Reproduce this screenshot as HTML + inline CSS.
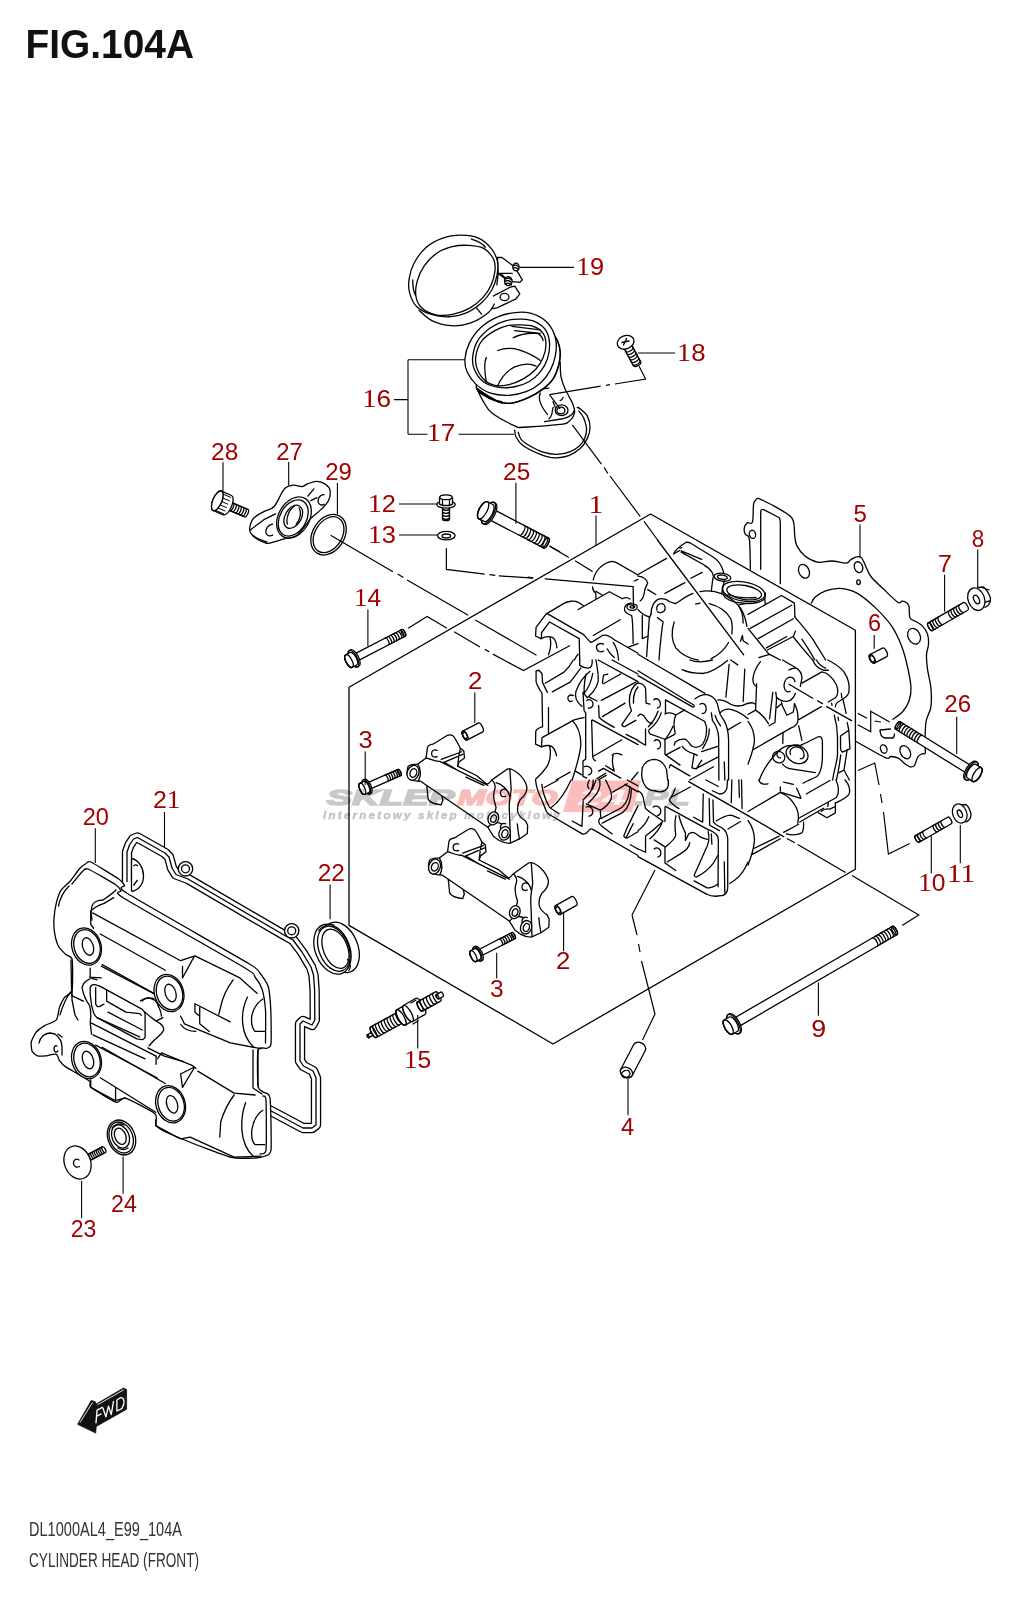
<!DOCTYPE html>
<html><head><meta charset="utf-8">
<style>
html,body{margin:0;padding:0;background:#fff;width:1020px;height:1600px;overflow:hidden}
svg{position:absolute;left:0;top:0;display:block}
.n{font-family:"Liberation Sans",sans-serif;font-size:23px;fill:#a00000}
.k{stroke:#000;stroke-width:1.3;fill:none;stroke-linecap:round;stroke-linejoin:round}
.w{stroke:#000;stroke-width:1.3;fill:#fff;stroke-linecap:round;stroke-linejoin:round}
.t{stroke:#000;stroke-width:1.1;fill:none}
.d{stroke:#000;stroke-width:1.2;fill:none;stroke-dasharray:22 5 4 5}
</style></head><body>
<svg width="1020" height="1600" viewBox="0 0 1020 1600">
<!-- title -->

<text x="25.5" y="57.5" textLength="168.5" lengthAdjust="spacingAndGlyphs" style="font-family:'Liberation Sans',sans-serif;font-weight:bold;font-size:40px;fill:#111">FIG.104A</text>

<!-- footer -->

<text x="29" y="1536.3" textLength="153" lengthAdjust="spacingAndGlyphs" style="font-family:'Liberation Sans',sans-serif;font-size:20px;fill:#333">DL1000AL4_E99_104A</text>
<text x="29" y="1567.2" textLength="170" lengthAdjust="spacingAndGlyphs" style="font-family:'Liberation Sans',sans-serif;font-size:20px;fill:#333">CYLINDER HEAD (FRONT)</text>

<!-- GASKET 5 -->
<g class="k">
<path d="M750.4 569.3C750.2 564.3 750.2 545.2 749.4 539.4C748.5 533.6 746.1 536.2 745.3 534.3C744.4 532.4 743.9 530.0 744.3 528.1C744.6 526.2 746.0 523.9 747.4 522.9C748.8 521.9 751.5 525.0 752.5 521.9C753.5 518.8 753.0 508.0 753.5 504.4C754.0 500.8 754.4 501.1 755.6 500.3C756.8 499.5 755.2 496.9 760.7 499.3C766.2 501.7 783.0 510.8 788.5 514.7C794.0 518.6 792.7 519.5 793.7 522.9C794.7 526.3 794.2 531.5 794.7 535.3C795.2 539.1 795.1 542.2 796.8 545.6C798.5 549.0 801.6 553.1 805.0 555.9C808.4 558.6 812.9 561.2 817.4 562.1C821.9 563.0 827.0 560.8 831.8 561.0C836.6 561.2 843.1 563.3 846.2 563.1C849.3 562.9 848.6 561.0 850.3 560.0C852.0 559.0 854.6 557.2 856.5 556.9C858.4 556.5 860.1 556.3 861.6 557.9C863.1 559.5 864.2 563.1 865.7 566.2C867.2 569.3 868.0 572.7 870.9 576.5C873.8 580.3 878.7 584.5 883.2 588.8C887.7 593.1 894.6 600.1 897.7 602.2C900.8 604.3 900.4 601.2 901.8 601.2C903.2 601.2 904.7 601.4 905.9 602.2C907.1 603.1 908.3 603.7 909.0 606.3C909.7 608.9 908.8 615.1 910.0 617.7C911.2 620.3 914.1 620.4 916.2 621.8C918.3 623.2 920.5 623.8 922.4 625.9C924.3 628.0 926.5 631.0 927.5 634.1C928.5 637.2 928.7 641.0 928.5 644.4C928.3 647.8 926.7 650.6 926.5 654.7C926.3 658.8 926.8 664.0 927.5 669.1C928.2 674.2 930.0 680.8 930.6 685.6C931.2 690.4 931.4 694.2 931.4 698.0C931.4 701.8 931.5 704.8 930.6 708.5C929.8 712.2 927.2 716.2 926.3 720.4C925.4 724.5 925.4 729.3 925.2 733.4C925.0 737.5 925.0 741.7 925.0 745.0C925.0 748.3 925.7 751.8 925.2 753.3C924.7 754.8 923.2 753.2 922.0 753.8C920.8 754.4 919.0 755.1 917.7 757.1C916.4 759.1 915.7 764.1 914.4 765.7C913.1 767.3 911.7 767.1 910.1 766.8C908.5 766.4 906.7 765.0 904.7 763.6C902.7 762.2 900.6 759.4 898.3 758.2C896.0 757.0 892.9 756.6 890.7 756.5C888.5 756.4 890.8 759.9 885.3 757.6C879.8 755.3 865.3 746.6 857.8 742.5C850.2 738.4 843.0 734.6 840.0 733.0"/>
<path d="M760.7 569.3L760.7 512C760.7 510 762 509 763.8 509.6L779.3 517.8C780 519 780.3 520 780.3 522.9L780.3 583.7"/>
<path d="M811.2 603.2C811.9 602.2 812.9 599.2 815.3 597.1C817.7 595.0 821.5 592.4 825.6 590.9C829.7 589.4 834.9 588.1 840.0 588.4C845.1 588.7 850.7 589.7 856.5 592.9C862.3 596.1 869.2 601.9 875.0 607.4C880.8 612.9 887.0 619.4 891.5 625.9C896.0 632.4 899.0 639.3 901.8 646.5C904.5 653.7 906.5 662.1 908.0 669.0C909.5 675.9 910.8 682.7 911.0 688.0C911.2 693.3 910.4 697.0 909.0 701.0C907.6 705.0 905.3 708.8 902.6 711.8C899.9 714.8 894.5 718.0 892.9 719.3"/>
<ellipse cx="752.5" cy="534.3" rx="3.1" ry="4.1" transform="rotate(-15 752.5 534.3)"/>
<ellipse cx="804" cy="571.3" rx="5.1" ry="7.2" transform="rotate(-25 804 571.3)"/>
<ellipse cx="858.5" cy="567.2" rx="4.1" ry="5.6" transform="rotate(-20 858.5 567.2)"/>
<ellipse cx="858.5" cy="582.2" rx="1.8" ry="2.3"/>
<ellipse cx="914.1" cy="636.2" rx="6" ry="8.2" transform="rotate(-25 914.1 636.2)"/>
<ellipse cx="883.7" cy="749" rx="3.2" ry="4.3" transform="rotate(-20 883.7 749)"/>
<ellipse cx="905.3" cy="752.2" rx="4.8" ry="7" transform="rotate(-30 905.3 752.2)"/>
<path d="M880 730L890.5 729M881 735C880 732 880 731 880 730M881 735C882 737 884 738 886 738L893 738C894 737 894.5 736 894.4 734"/>
</g>

<!-- BOX -->

<g class="k">
<path d="M349 687.2L650.6 514L855.4 630.3V869.3L553 1044L349 925.4Z" style="fill:#fff"/>
</g>

<!-- HEAD A1 -->
<g transform="translate(528 540) scale(0.10784)" class="k">
<path vector-effect="non-scaling-stroke" d="M205 60L375 160M440 195L595 290"/>
<path vector-effect="non-scaling-stroke" d="M0 345L45 352M160 360L975 432L978 630"/>
<path vector-effect="non-scaling-stroke" d="M605 370C620 290 690 210 780 198C800 200 810 205 820 210L1020 325M985 380L1020 365"/>
<path vector-effect="non-scaling-stroke" d="M598 435C600 460 610 480 628 492L630 545M630 475L690 512"/>
<path vector-effect="non-scaling-stroke" d="M170 685L330 590C370 565 430 560 470 580L515 610M465 645L755 480L875 545C900 530 925 530 945 548"/>
<path vector-effect="non-scaling-stroke" d="M895 650C890 610 920 585 960 585M895 650C900 670 920 685 960 700C970 720 972 760 975 960"/>
<path vector-effect="non-scaling-stroke" d="M175 680L505 870C530 890 550 920 578 945C588 952 597 948 605 940L690 885C720 875 760 890 800 925L1020 1050"/>
<path vector-effect="non-scaling-stroke" d="M125 915L125 860L200 760L475 915L480 1113M70 890L75 810L165 690M70 890L120 915"/>
<path vector-effect="non-scaling-stroke" d="M120 915C160 895 200 890 230 905C255 925 265 960 268 1000M205 905C215 950 210 1010 190 1065"/>
<path vector-effect="non-scaling-stroke" d="M605 885L855 740M925 995L1020 960"/>
<path vector-effect="non-scaling-stroke" d="M700 965C665 950 630 970 635 1000C640 1035 670 1045 700 1030"/>
<path vector-effect="non-scaling-stroke" d="M735 1010C750 1040 770 1065 800 1090M790 950C820 990 835 1040 840 1113"/>
<path vector-effect="non-scaling-stroke" d="M430 1113C440 1090 455 1070 465 1060"/>
<ellipse vector-effect="non-scaling-stroke" cx="965" cy="622" rx="48" ry="30"/><ellipse vector-effect="non-scaling-stroke" cx="968" cy="620" rx="22" ry="12"/>
</g>
<!-- HEAD A2 -->
<g transform="translate(638 540) scale(0.10784)" class="k">
<path vector-effect="non-scaling-stroke" d="M180 0L980 1065"/>
<path vector-effect="non-scaling-stroke" d="M330 130C345 90 390 55 440 25C455 18 470 20 485 28L700 160C745 190 780 240 795 305"/>
<path vector-effect="non-scaling-stroke" d="M335 125L385 98M390 78L405 70M400 100L590 180M400 112L610 230C640 245 670 275 690 305L700 340"/>
<path vector-effect="non-scaling-stroke" d="M695 350L680 470M800 380L775 500"/>
<path vector-effect="non-scaling-stroke" d="M0 320L265 170M0 335C40 340 80 360 90 400C80 420 65 440 60 480C55 520 40 550 20 565"/>
<path vector-effect="non-scaling-stroke" d="M90 460L165 505M250 495L435 395M490 355L595 300"/>
<path vector-effect="non-scaling-stroke" d="M175 650C165 610 195 585 225 590C255 600 260 640 240 660C220 675 195 675 180 665"/>
<path vector-effect="non-scaling-stroke" d="M120 690C120 620 150 560 200 545C240 540 280 560 300 575L345 590L380 570C420 540 470 510 510 495"/>
<path vector-effect="non-scaling-stroke" d="M575 478C650 465 720 475 780 500C850 530 910 580 950 630C980 680 1000 740 1010 800"/>
<path vector-effect="non-scaling-stroke" d="M660 590C740 610 820 660 860 730C880 780 875 830 870 870M535 595L575 585"/>
<path vector-effect="non-scaling-stroke" d="M335 760C310 840 310 930 350 1000C400 1060 480 1100 560 1113M840 950C800 1020 740 1070 680 1100"/>
<path vector-effect="non-scaling-stroke" d="M230 770C220 850 205 950 195 1113M180 720L235 760M120 690L105 720L80 1080"/>
<path vector-effect="non-scaling-stroke" d="M0 645C30 680 60 700 110 715M40 700L40 915L95 890M0 1060L90 1113"/>
<path vector-effect="non-scaling-stroke" d="M950 940L968 885L975 935L1020 965M940 600L1000 590M935 615C960 650 975 700 975 770"/>
<ellipse vector-effect="non-scaling-stroke" cx="783" cy="345" rx="78" ry="36" transform="rotate(8 783 345)"/><ellipse vector-effect="non-scaling-stroke" cx="783" cy="345" rx="46" ry="19" transform="rotate(8 783 345)"/>
</g>
<!-- HEAD A3 -->
<g transform="translate(748 540) scale(0.10784)" class="k">
<path vector-effect="non-scaling-stroke" d="M155 545L160 595"/>
<path vector-effect="non-scaling-stroke" d="M0 690L310 515L430 585L435 712M20 820L405 605M95 915L420 730M170 1000L360 895M180 1020L420 895L440 845"/>
<path vector-effect="non-scaling-stroke" d="M0 820L195 1060M100 1090L200 1060L300 1113M435 712C470 760 540 830 600 920L720 1113M420 895C450 940 520 1020 600 1113M500 920C540 980 580 1040 620 1113"/>
</g>
<!-- HEAD B1 -->
<g transform="translate(528 660) scale(0.10784)" class="k">
<path vector-effect="non-scaling-stroke" d="M75 100L75 200C80 230 100 260 130 310L135 620C110 625 85 635 72 660L70 780L125 805M75 100L100 95L130 125L135 210C150 240 165 270 180 300"/>
<path vector-effect="non-scaling-stroke" d="M190 440L190 680M130 720L420 560C450 545 490 540 520 535M125 805L130 720"/>
<path vector-effect="non-scaling-stroke" d="M160 215L330 115C370 80 400 40 420 0M225 295L390 205C430 160 460 110 490 75"/>
<path vector-effect="non-scaling-stroke" d="M410 560C460 610 490 690 490 780C485 880 450 980 410 1113"/>
<path vector-effect="non-scaling-stroke" d="M125 805C150 795 180 790 205 795C235 805 255 840 265 890M200 800C215 860 205 930 180 980C150 1030 110 1070 70 1105"/>
<path vector-effect="non-scaling-stroke" d="M480 0L480 50C500 65 530 75 560 75C585 70 600 50 595 0M630 0L640 60L650 130"/>
<path vector-effect="non-scaling-stroke" d="M575 105C520 150 470 220 445 290C430 340 450 390 500 430M540 130C525 180 520 240 520 300M600 125C590 190 560 260 520 310M650 140C660 200 640 270 560 340M690 215L700 140L740 130"/>
<path vector-effect="non-scaling-stroke" d="M420 330C390 315 365 335 370 360C375 385 395 390 410 380M545 375C570 355 600 375 603 405C605 430 585 450 560 445"/>
<path vector-effect="non-scaling-stroke" d="M510 300L520 470L535 490L535 920L510 935L510 1080L545 1095M510 300L550 350M560 340L640 380"/>
<path vector-effect="non-scaling-stroke" d="M655 420L660 530C670 550 690 565 800 625M590 560L600 900C605 920 615 930 625 935M595 555L1020 785M610 890L870 740M910 690L1020 745"/>
<path vector-effect="non-scaling-stroke" d="M680 375L1000 205M690 525L900 400M700 220L860 130M650 0L1020 200M780 0L1020 130"/>
<path vector-effect="non-scaling-stroke" d="M1020 210C970 240 940 300 940 380C940 420 950 450 960 470L870 600C875 615 890 620 900 615L1000 560M1020 250C985 290 975 340 978 400"/>
<path vector-effect="non-scaling-stroke" d="M780 880C800 860 840 860 870 880M790 880C780 920 780 970 800 1030M720 980L800 1030M655 1030L700 1005L860 1095M640 1100L720 1050M650 1113L725 1070M960 1113L1020 1040"/>
<path vector-effect="non-scaling-stroke" d="M260 1113L390 1040M440 1030L500 1065"/>
<path vector-effect="non-scaling-stroke" d="M520 990C550 975 580 990 590 1020C595 1045 580 1065 560 1065"/>
</g>
<!-- HEAD B2 -->
<g transform="translate(638 660) scale(0.10784)" class="k">
<path vector-effect="non-scaling-stroke" d="M90 0L620 310M0 100L520 420M0 145L505 435C515 440 525 430 520 420"/>
<path vector-effect="non-scaling-stroke" d="M410 90C450 110 520 125 600 125C660 120 740 80 830 5M480 0C520 15 600 25 690 0M845 40L815 345M990 85L975 385M860 0L925 45"/>
<path vector-effect="non-scaling-stroke" d="M530 360C560 335 600 320 640 322C680 330 710 355 730 390C745 430 750 480 765 510L800 565C825 610 838 660 840 740L840 1113"/>
<path vector-effect="non-scaling-stroke" d="M680 490L690 560C720 600 745 650 748 720L750 1113M715 515C725 550 740 580 765 610"/>
<path vector-effect="non-scaling-stroke" d="M575 410C600 390 630 410 632 445C635 480 615 500 595 495M145 370C165 350 195 360 205 390C215 420 200 445 180 445M150 750C170 730 200 740 208 770C215 800 200 825 180 825"/>
<path vector-effect="non-scaling-stroke" d="M0 215C30 215 55 230 70 260L75 400L110 410M70 640L70 790L0 750"/>
<path vector-effect="non-scaling-stroke" d="M255 370L620 570M255 370L255 500M250 500C280 485 320 490 350 510L435 462"/>
<path vector-effect="non-scaling-stroke" d="M350 510C330 560 330 620 345 680M325 615C310 650 290 690 255 735L340 690"/>
<path vector-effect="non-scaling-stroke" d="M215 490C200 540 170 590 110 640C95 650 95 670 115 690M185 475C170 520 145 570 95 620M110 685L250 735M0 520C20 490 50 500 70 540C85 570 110 585 130 590"/>
<path vector-effect="non-scaling-stroke" d="M250 735L250 875L390 975M260 880L390 810"/>
<path vector-effect="non-scaling-stroke" d="M335 790L345 760C370 740 410 730 440 735C465 750 480 780 500 800C530 815 570 810 600 780C625 740 640 680 635 620L620 575"/>
<path vector-effect="non-scaling-stroke" d="M410 800C430 830 470 855 520 870L550 885M520 870L500 1000L540 1010L590 930M590 850L740 800M550 1000L740 900M480 1113L700 990M660 640C665 690 650 740 600 820"/>
<path vector-effect="non-scaling-stroke" d="M40 1000C60 950 100 925 150 922C200 925 245 960 265 1020L275 1113M290 1000L300 970L480 1075"/>
<path vector-effect="non-scaling-stroke" d="M740 370C790 365 830 390 860 410C900 430 950 440 1020 400M760 490C790 460 830 450 870 460C920 475 980 510 1020 545M830 650L950 580M800 945L805 1113"/>
</g>
<!-- HEAD B3 -->
<g transform="translate(748 660) scale(0.10784)" class="k">
<path vector-effect="non-scaling-stroke" d="M115 15C80 60 50 120 45 180C45 210 60 235 80 245M80 220L70 465M0 405C20 395 50 395 70 410M0 505L70 465C110 490 160 540 190 590M0 570C40 620 60 680 60 750C55 810 40 860 0 965"/>
<path vector-effect="non-scaling-stroke" d="M320 0L440 70C480 90 500 130 500 170L485 245M380 92C400 80 420 75 440 75"/>
<path vector-effect="non-scaling-stroke" d="M435 200C430 165 400 150 370 165C340 180 325 230 340 270C350 295 375 300 390 290"/>
<path vector-effect="non-scaling-stroke" d="M380 225L600 355M645 378L690 405M730 432L960 562"/>
<path vector-effect="non-scaling-stroke" d="M500 215L685 110C740 120 790 170 820 230C840 280 835 330 810 350L745 390"/>
<path vector-effect="non-scaling-stroke" d="M600 0C615 40 650 80 700 95L745 95M635 0C650 30 680 60 720 75M740 0C790 25 850 60 890 110C930 170 945 240 935 300C925 340 890 360 850 380C820 395 810 410 810 435M775 400L780 420M865 310L870 350M880 360L910 495"/>
<path vector-effect="non-scaling-stroke" d="M230 300L200 545M258 298L265 360L250 580L195 610M265 345C290 370 320 385 360 383C400 378 425 350 440 310M270 440L310 405L360 512L420 482L432 405M310 390L320 430"/>
<path vector-effect="non-scaling-stroke" d="M430 405C455 450 468 510 462 570C455 600 440 615 400 630L50 830M475 550L680 432M325 680L322 775M470 610L500 745"/>
<path vector-effect="non-scaling-stroke" d="M105 1113C130 1040 180 960 240 890C280 840 320 805 370 795L490 790C540 770 600 735 650 712C675 705 690 720 690 760L690 900C688 980 670 1050 640 1080L570 1113"/>
<path vector-effect="non-scaling-stroke" d="M320 965C340 990 370 1005 400 1010L625 1045M395 875C380 840 400 810 440 805C490 800 520 840 520 880C520 905 505 915 485 915M300 845C280 840 265 860 270 885C275 905 290 910 300 905"/>
<path vector-effect="non-scaling-stroke" d="M800 512C820 580 830 650 830 720L830 880C825 950 800 1010 785 1113M835 530L840 560M820 1113C835 1050 850 960 860 880"/>
<path vector-effect="non-scaling-stroke" d="M858 705L935 652L945 825L875 855C865 850 860 835 858 820ZM920 580L935 650M920 830L890 1020L845 1045M890 1020L940 1113"/>
<ellipse vector-effect="non-scaling-stroke" cx="455" cy="875" rx="105" ry="82" transform="rotate(25 455 875)"/><ellipse vector-effect="non-scaling-stroke" cx="285" cy="900" rx="58" ry="52" transform="rotate(25 285 900)"/>
</g>
<!-- HEAD C1 -->
<g transform="translate(528 780) scale(0.10784)" class="k">
<path vector-effect="non-scaling-stroke" d="M70 0C75 60 100 130 130 190L170 290C180 310 190 318 205 325L495 495C510 505 530 503 545 490L570 460C580 450 590 450 605 460L1020 700"/>
<path vector-effect="non-scaling-stroke" d="M128 40C135 110 165 190 200 255L285 310M150 70L280 0M215 255C280 210 340 130 400 0"/>
<path vector-effect="non-scaling-stroke" d="M410 380L500 430L512 195M510 185C540 160 570 120 600 80L630 0M570 0C550 30 550 60 565 80M665 0C675 60 650 120 610 160L560 215M605 0C605 50 590 100 560 140"/>
<path vector-effect="non-scaling-stroke" d="M540 250C560 240 590 250 600 280C605 310 590 335 565 335M540 222L670 280L675 350M670 280C710 260 745 230 770 180C785 140 770 100 720 0M785 112L920 35"/>
<path vector-effect="non-scaling-stroke" d="M665 355C650 380 655 405 680 425L780 500M675 358L870 255C910 220 940 160 945 60M688 400L880 300C920 270 955 200 960 80"/>
<path vector-effect="non-scaling-stroke" d="M900 40L1020 110M920 0L1020 55M1020 240C990 300 950 380 920 440L888 520C895 535 905 540 920 538L1020 480M975 405L912 530M950 600L1020 640"/>
</g>
<!-- HEAD C2 -->
<g transform="translate(638 780) scale(0.10784)" class="k">
<path vector-effect="non-scaling-stroke" d="M160 100C200 115 245 110 270 80C282 60 284 30 280 0M0 100C30 110 50 140 55 200L70 265L100 290M0 470C40 440 75 400 100 340"/>
<path vector-effect="non-scaling-stroke" d="M140 250C160 235 195 240 208 270C218 300 205 325 180 330M100 290L230 380"/>
<path vector-effect="non-scaling-stroke" d="M250 250L250 385M255 245L650 460M290 185C300 210 330 235 380 265M345 75C335 110 315 150 292 185M300 165L485 65"/>
<path vector-effect="non-scaling-stroke" d="M470 15L1020 330M630 0L745 60M690 100L755 130C790 130 815 110 825 75L830 0M870 0L865 210M935 0L940 160M960 0L965 265"/>
<path vector-effect="non-scaling-stroke" d="M605 130L600 390L515 345M660 170L665 420L755 470M695 185L700 390C710 410 730 420 780 445C810 465 830 500 832 550L832 1000C830 1040 815 1060 790 1070"/>
<path vector-effect="non-scaling-stroke" d="M725 380C770 350 820 325 865 325L940 355M835 455L950 385M645 460C690 470 720 490 740 525L745 560L742 990M800 760L805 1050"/>
<path vector-effect="non-scaling-stroke" d="M380 330C390 380 410 430 440 490M440 495L440 560L470 500C490 485 515 480 540 500C570 525 610 545 645 550M352 330C340 380 340 440 350 510C345 540 320 570 255 620M480 580C475 620 450 650 400 680L270 760"/>
<path vector-effect="non-scaling-stroke" d="M150 555L250 620L250 770L350 840M70 520L70 670L0 640M70 520C110 490 160 450 230 385M110 545C150 510 190 470 220 405"/>
<path vector-effect="non-scaling-stroke" d="M150 640C170 620 200 630 210 660C215 690 205 710 185 715"/>
<path vector-effect="non-scaling-stroke" d="M650 480C665 530 655 600 620 660L520 885C525 895 535 900 545 898M680 500L685 595M545 898C600 870 660 820 700 770L740 700"/>
<path vector-effect="non-scaling-stroke" d="M0 710L640 1060C660 1072 680 1078 720 1078L790 1070M520 935L640 1000C670 1005 700 995 740 965"/>
<path vector-effect="non-scaling-stroke" d="M850 960C900 930 960 880 990 820L1020 760"/>
</g>
<!-- HEAD C3 -->
<g transform="translate(748 780) scale(0.10784)" class="k">
<path vector-effect="non-scaling-stroke" d="M0 330L330 525M365 545L430 580M465 600L900 855"/>
<path vector-effect="non-scaling-stroke" d="M100 0C110 30 140 45 185 35M330 20L420 40M510 30L570 0M300 65L300 100M450 75L490 165M300 112L490 170"/>
<path vector-effect="non-scaling-stroke" d="M0 292L300 115C360 140 420 200 450 260C470 310 472 360 460 400M540 130L760 5"/>
<path vector-effect="non-scaling-stroke" d="M470 355L820 162M480 390L700 262M815 0C835 40 842 90 835 130L820 162M900 0C935 40 948 90 940 125C925 160 880 180 820 210"/>
<path vector-effect="non-scaling-stroke" d="M330 485L470 410M355 500C400 512 460 510 500 490C515 470 518 440 515 390"/>
<path vector-effect="non-scaling-stroke" d="M45 640L290 520M40 690L300 545M0 375C40 430 60 500 60 560C55 630 35 700 0 790"/>
<path vector-effect="non-scaling-stroke" d="M650 302L732 350L810 305L810 210M680 290C700 270 730 265 760 270L800 250M740 245L745 210"/>
</g>

<!-- OUTLET RING -->
<g>
<path class="k" d="M722.8 590L723.5 595C726 600 735 603 748 603.5C756 603.5 762 601.5 765 598.5L765.5 593"/><ellipse class="k" cx="743.60" cy="591.50" rx="21.60" ry="9.60" transform="rotate(10.0 743.60 591.50)"/><ellipse class="k" cx="744.20" cy="592.40" rx="17.60" ry="7.00" transform="rotate(10.0 744.20 592.40)"/><path class="k" d="M728 594.5C735 597 745 598.5 756 597.5"/></g>

<!-- HEAD small fixes -->
<g class="k">
<path d="M642.3 767.8C641 775 642 782 646 787C649 790 653 791 656 790.8"/>
</g>

<!-- ASSEMBLY LINES -->
<g class="t" style="stroke-width:1.2">
<path d="M330.6 535.3L392.9 571.8M397.6 574.1L403.5 577.6M407.1 580L468.2 615.3M475.3 620L536.5 655.3"/>
<path d="M446.4 548.2L446.4 569.4L484.7 574.1M489.4 574.6L495.3 575.3M498.8 575.8L532.9 578.2"/>
<path d="M408.2 628.2L427.1 616.5L447 628.2M454.1 631.8L480 647M484.7 649.4L489.4 651.8M492.9 654.1L523.5 670.6L570.1 645.5"/>
<path d="M549.4 545.9L560 551.8"/>
<path d="M852 875.4L918.8 914.9L902.1 925.6"/>
<path d="M858 770.5L874.8 763L879 785M880.5 794L882 803M883.5 812L888.4 854.1L909.7 843.5"/>
<path d="M857.8 713.4L867 718.3M874.5 721L881 722M857.8 724.7L870.7 731.7L870.7 711.2L889.6 722"/>
<path d="M655 870L632 915M632 915L637 935M638.5 944L640 952M641.5 961L655 1014L642.5 1040"/>
<path d="M572.3 424.8L601.4 464.2M604.1 467.4L607.8 473.4M610 476L640.2 516.5M644 521.4L658 540.5"/>
</g>

<!-- SMALL PARTS A -->
<g>
<path class="k" d="M932.60 630.51 L967.70 610.21 A1.98 4.40 -30.0 0 0 963.30 602.59 L928.20 622.89 A1.98 4.40 -30.0 0 0 932.60 630.51 Z" style="fill:#fff"/><ellipse class="k" cx="930.40" cy="626.70" rx="1.98" ry="4.40" transform="rotate(-30.0 930.40 626.70)"/><path class="k" d="M935.20 629.01 A1.98 4.40 -30.0 0 1 930.79 621.39"/><path class="k" d="M937.80 627.50 A1.98 4.40 -30.0 0 1 933.39 619.89"/><path class="k" d="M940.39 626.00 A1.98 4.40 -30.0 0 1 935.99 618.39"/><path class="k" d="M942.99 624.50 A1.98 4.40 -30.0 0 1 938.58 616.88"/><path class="k" d="M953.38 618.49 A1.98 4.40 -30.0 0 1 948.97 610.88"/><path class="k" d="M955.98 616.99 A1.98 4.40 -30.0 0 1 951.57 609.37"/><path class="k" d="M958.57 615.49 A1.98 4.40 -30.0 0 1 954.17 607.87"/><path class="k" d="M961.17 613.99 A1.98 4.40 -30.0 0 1 956.76 606.37"/><path class="k" d="M963.77 612.49 A1.98 4.40 -30.0 0 1 959.36 604.87"/><path class="k" d="M978 587.5L983.5 587C986 589 989 594 990.5 598L990 602.5C989 605 987.5 606.5 985 607.5" style="fill:#fff"/><ellipse class="k" cx="976.30" cy="599.20" rx="8.20" ry="11.60" transform="rotate(-20.0 976.30 599.20)" style="fill:#fff"/><ellipse class="k" cx="976.50" cy="599.50" rx="2.60" ry="4.60" transform="rotate(-25.0 976.50 599.50)"/><path class="k" d="M983 588L989 590M990 601L985.5 602"/><path class="k" d="M874.40 663.07 L886.80 656.67 A2.16 4.80 -27.3 0 0 882.40 648.13 L870.00 654.53 A2.16 4.80 -27.3 0 0 874.40 663.07 Z" style="fill:#fff"/><ellipse class="k" cx="872.20" cy="658.80" rx="2.16" ry="4.80" transform="rotate(-27.3 872.20 658.80)"/><ellipse class="k" cx="872.20" cy="658.80" rx="2.20" ry="3.30" transform="rotate(-28.0 872.20 658.80)"/><path class="k" d="M892.09 926.45 L732.09 1019.35 A2.02 4.80 149.9 0 0 736.91 1027.65 L896.91 934.75 A2.02 4.80 149.9 0 0 892.09 926.45 Z" style="fill:#fff"/><ellipse class="k" cx="894.50" cy="930.60" rx="2.02" ry="4.80" transform="rotate(149.9 894.50 930.60)"/><path class="k" d="M895.35 935.65 A2.02 4.80 -30.1 0 0 890.53 927.35"/><path class="k" d="M892.76 937.16 A2.02 4.80 -30.1 0 0 887.94 928.86"/><path class="k" d="M890.16 938.67 A2.02 4.80 -30.1 0 0 885.34 930.37"/><path class="k" d="M887.57 940.17 A2.02 4.80 -30.1 0 0 882.75 931.87"/><path class="k" d="M884.98 941.68 A2.02 4.80 -30.1 0 0 880.16 933.38"/><path class="k" d="M882.38 943.19 A2.02 4.80 -30.1 0 0 877.56 934.88"/><path class="k" d="M879.79 944.69 A2.02 4.80 -30.1 0 0 874.97 936.39"/><path class="k" d="M877.19 946.20 A2.02 4.80 -30.1 0 0 872.37 937.90"/><path class="k" d="M732.39 1034.21 L737.58 1031.19 A3.44 8.20 -30.1 0 0 729.34 1017.01 L724.16 1020.02 A3.44 8.20 -30.1 0 0 732.39 1034.21 Z" style="fill:#fff"/><ellipse class="k" cx="728.27" cy="1027.12" rx="3.44" ry="8.20" transform="rotate(-30.1 728.27 1027.12)"/><path class="k" d="M738.99 1033.62 L740.28 1032.86 A4.62 11.00 -30.1 0 0 729.24 1013.84 L727.94 1014.59 A4.62 11.00 -30.1 0 0 738.99 1033.62 Z" style="fill:#fff"/><ellipse class="k" cx="733.46" cy="1024.10" rx="4.62" ry="11.00" transform="rotate(-30.1 733.46 1024.10)"/><path class="k" d="M732.39 1034.21 L737.58 1031.19 A3.44 8.20 -30.1 0 0 729.34 1017.01 L724.16 1020.02 A3.44 8.20 -30.1 0 0 732.39 1034.21 Z" style="fill:#fff"/><ellipse class="k" cx="728.27" cy="1027.12" rx="3.44" ry="8.20" transform="rotate(-30.1 728.27 1027.12)"/><path class="k" d="M895.68 729.24 L968.18 774.24 A1.85 4.40 31.8 0 0 972.82 766.76 L900.32 721.76 A1.85 4.40 31.8 0 0 895.68 729.24 Z" style="fill:#fff"/><ellipse class="k" cx="898.00" cy="725.50" rx="1.85" ry="4.40" transform="rotate(31.8 898.00 725.50)"/><path class="k" d="M901.85 722.71 A1.85 4.40 -148.2 0 0 897.21 730.19"/><path class="k" d="M904.40 724.29 A1.85 4.40 -148.2 0 0 899.76 731.77"/><path class="k" d="M906.95 725.88 A1.85 4.40 -148.2 0 0 902.31 733.35"/><path class="k" d="M909.50 727.46 A1.85 4.40 -148.2 0 0 904.86 734.93"/><path class="k" d="M912.05 729.04 A1.85 4.40 -148.2 0 0 907.40 736.52"/><path class="k" d="M914.59 730.62 A1.85 4.40 -148.2 0 0 909.95 738.10"/><path class="k" d="M917.14 732.20 A1.85 4.40 -148.2 0 0 912.50 739.68"/><path class="k" d="M919.69 733.79 A1.85 4.40 -148.2 0 0 915.05 741.26"/><path class="k" d="M922.24 735.37 A1.85 4.40 -148.2 0 0 917.60 742.84"/><path class="k" d="M981.26 767.76 L975.74 764.34 A3.36 8.00 -148.2 0 0 967.30 777.93 L972.82 781.36 A3.36 8.00 -148.2 0 0 981.26 767.76 Z" style="fill:#fff"/><ellipse class="k" cx="977.04" cy="774.56" rx="3.36" ry="8.00" transform="rotate(-148.2 977.04 774.56)"/><path class="k" d="M977.06 762.21 L975.78 761.42 A4.41 10.50 -148.2 0 0 964.71 779.26 L965.98 780.05 A4.41 10.50 -148.2 0 0 977.06 762.21 Z" style="fill:#fff"/><ellipse class="k" cx="971.52" cy="771.13" rx="4.41" ry="10.50" transform="rotate(-148.2 971.52 771.13)"/><path class="k" d="M981.26 767.76 L975.74 764.34 A3.36 8.00 -148.2 0 0 967.30 777.93 L972.82 781.36 A3.36 8.00 -148.2 0 0 981.26 767.76 Z" style="fill:#fff"/><ellipse class="k" cx="977.04" cy="774.56" rx="3.36" ry="8.00" transform="rotate(-148.2 977.04 774.56)"/><path class="k" d="M919.19 842.20 L951.39 823.80 A1.71 3.80 -29.7 0 0 947.61 817.20 L915.41 835.60 A1.71 3.80 -29.7 0 0 919.19 842.20 Z" style="fill:#fff"/><ellipse class="k" cx="917.30" cy="838.90" rx="1.71" ry="3.80" transform="rotate(-29.7 917.30 838.90)"/><path class="k" d="M921.79 840.71 A1.71 3.80 -29.7 0 1 918.02 834.11"/><path class="k" d="M924.39 839.22 A1.71 3.80 -29.7 0 1 920.62 832.62"/><path class="k" d="M927.00 837.73 A1.71 3.80 -29.7 0 1 923.23 831.14"/><path class="k" d="M937.42 831.78 A1.71 3.80 -29.7 0 1 933.65 825.18"/><path class="k" d="M940.02 830.29 A1.71 3.80 -29.7 0 1 936.25 823.69"/><path class="k" d="M942.63 828.80 A1.71 3.80 -29.7 0 1 938.86 822.20"/><path class="k" d="M945.23 827.32 A1.71 3.80 -29.7 0 1 941.46 820.72"/><path class="k" d="M961 805L966 804.5C968 806 970 810 971 814L970.5 818C969.5 820 968 821 966 822" style="fill:#fff"/><ellipse class="k" cx="959.70" cy="813.50" rx="7.00" ry="9.80" transform="rotate(-20.0 959.70 813.50)" style="fill:#fff"/><ellipse class="k" cx="959.90" cy="813.80" rx="2.20" ry="4.00" transform="rotate(-25.0 959.90 813.80)"/><path class="k" d="M548.55 538.12 L492.05 508.62 A2.31 5.50 -152.4 0 0 486.95 518.38 L543.45 547.88 A2.31 5.50 -152.4 0 0 548.55 538.12 Z" style="fill:#fff"/><ellipse class="k" cx="546.00" cy="543.00" rx="2.31" ry="5.50" transform="rotate(-152.4 546.00 543.00)"/><path class="k" d="M541.86 547.04 A2.31 5.50 27.6 0 0 546.95 537.29"/><path class="k" d="M539.02 545.56 A2.31 5.50 27.6 0 0 544.11 535.81"/><path class="k" d="M536.19 544.08 A2.31 5.50 27.6 0 0 541.28 534.33"/><path class="k" d="M533.35 542.60 A2.31 5.50 27.6 0 0 538.44 532.85"/><path class="k" d="M530.51 541.12 A2.31 5.50 27.6 0 0 535.60 531.37"/><path class="k" d="M527.68 539.64 A2.31 5.50 27.6 0 0 532.77 529.89"/><path class="k" d="M524.84 538.16 A2.31 5.50 27.6 0 0 529.93 528.41"/><path class="k" d="M522.00 536.67 A2.31 5.50 27.6 0 0 527.09 526.92"/><path class="k" d="M519.17 535.19 A2.31 5.50 27.6 0 0 524.26 525.44"/><path class="k" d="M478.72 518.59 L484.04 521.37 A3.99 9.50 27.6 0 0 492.83 504.52 L487.51 501.75 A3.99 9.50 27.6 0 0 478.72 518.59 Z" style="fill:#fff"/><ellipse class="k" cx="483.12" cy="510.17" rx="3.99" ry="9.50" transform="rotate(27.6 483.12 510.17)"/><path class="k" d="M482.88 523.58 L484.21 524.28 A5.04 12.00 27.6 0 0 495.32 503.00 L493.99 502.31 A5.04 12.00 27.6 0 0 482.88 523.58 Z" style="fill:#fff"/><ellipse class="k" cx="488.44" cy="512.94" rx="5.04" ry="12.00" transform="rotate(27.6 488.44 512.94)"/><path class="k" d="M478.72 518.59 L484.04 521.37 A3.99 9.50 27.6 0 0 492.83 504.52 L487.51 501.75 A3.99 9.50 27.6 0 0 478.72 518.59 Z" style="fill:#fff"/><ellipse class="k" cx="483.12" cy="510.17" rx="3.99" ry="9.50" transform="rotate(27.6 483.12 510.17)"/><path class="k" d="M401.76 629.52 L352.76 654.82 A1.60 3.80 152.7 0 0 356.24 661.58 L405.24 636.28 A1.60 3.80 152.7 0 0 401.76 629.52 Z" style="fill:#fff"/><ellipse class="k" cx="403.50" cy="632.90" rx="1.60" ry="3.80" transform="rotate(152.7 403.50 632.90)"/><path class="k" d="M403.64 637.10 A1.60 3.80 -27.3 0 0 400.16 630.35"/><path class="k" d="M401.16 638.39 A1.60 3.80 -27.3 0 0 397.67 631.63"/><path class="k" d="M398.67 639.67 A1.60 3.80 -27.3 0 0 395.18 632.92"/><path class="k" d="M396.18 640.96 A1.60 3.80 -27.3 0 0 392.69 634.20"/><path class="k" d="M393.69 642.24 A1.60 3.80 -27.3 0 0 390.21 635.49"/><path class="k" d="M391.20 643.53 A1.60 3.80 -27.3 0 0 387.72 636.77"/><path class="k" d="M388.72 644.81 A1.60 3.80 -27.3 0 0 385.23 638.06"/><path class="k" d="M352.20 667.26 L356.65 664.97 A2.94 7.00 -27.3 0 0 350.22 652.53 L345.78 654.82 A2.94 7.00 -27.3 0 0 352.20 667.26 Z" style="fill:#fff"/><ellipse class="k" cx="348.99" cy="661.04" rx="2.94" ry="7.00" transform="rotate(-27.3 348.99 661.04)"/><path class="k" d="M357.65 666.93 L358.99 666.24 A3.86 9.20 -27.3 0 0 350.55 649.89 L349.21 650.58 A3.86 9.20 -27.3 0 0 357.65 666.93 Z" style="fill:#fff"/><ellipse class="k" cx="353.43" cy="658.75" rx="3.86" ry="9.20" transform="rotate(-27.3 353.43 658.75)"/><path class="k" d="M352.20 667.26 L356.65 664.97 A2.94 7.00 -27.3 0 0 350.22 652.53 L345.78 654.82 A2.94 7.00 -27.3 0 0 352.20 667.26 Z" style="fill:#fff"/><ellipse class="k" cx="348.99" cy="661.04" rx="2.94" ry="7.00" transform="rotate(-27.3 348.99 661.04)"/><path class="k" d="M442.5 506L442.5 519.5C442.5 521 449.5 521 449.5 519.5L449.5 506" style="fill:#fff"/><path class="k" d="M442.5 509.0C444 510.8 448 510.8 449.5 509.0"/><path class="k" d="M442.5 512.0C444 513.8 448 513.8 449.5 512.0"/><path class="k" d="M442.5 515.0C444 516.8 448 516.8 449.5 515.0"/><path class="k" d="M442.5 518.0C444 519.8 448 519.8 449.5 518.0"/><ellipse class="k" cx="446.00" cy="504.50" rx="9.30" ry="3.60" transform="rotate(0.0 446.00 504.50)" style="fill:#fff"/><path class="k" d="M439.5 504L439.5 497.5C441 495 451 495 452.5 497.5L452.5 504C451 506 441 506 439.5 504Z" style="fill:#fff"/><path class="k" d="M442.5 505.5L442.5 499M449.5 505.5L449.5 499"/><ellipse class="k" cx="446.00" cy="497.20" rx="6.20" ry="2.40" transform="rotate(0.0 446.00 497.20)" style="fill:#fff"/><ellipse class="k" cx="446.30" cy="535.60" rx="8.80" ry="4.30" transform="rotate(0.0 446.30 535.60)" style="fill:#fff"/><ellipse class="k" cx="446.30" cy="536.00" rx="4.20" ry="2.00" transform="rotate(0.0 446.30 536.00)"/></g>

<!-- CLAMP 19 -->
<g transform="translate(400 225) scale(0.12745)">
<path class="k" vector-effect="non-scaling-stroke" style="fill:#fff" d="M765 255L800 255L900 330L960 430L940 450L850 440L770 380Z"/>
<path class="k" vector-effect="non-scaling-stroke" style="fill:#fff" d="M690 580L860 490L900 480L940 540L910 580L760 650L700 660Z"/>
<path class="k" vector-effect="non-scaling-stroke" d="M770 380L880 380M760 470L770 380L800 390L830 420"/>
<path class="k" vector-effect="non-scaling-stroke" style="fill:#fff;stroke:none" d="M150 670C200 720 300 780 400 790C500 795 620 760 690 690L740 620L720 510L150 670Z"/>
<path class="k" vector-effect="non-scaling-stroke" style="fill:#fff" d="M480.0 80.0C528.3 80.0 580.0 86.7 620.0 105.0C660.0 123.3 695.8 159.2 720.0 190.0C744.2 220.8 758.3 255.0 765.0 290.0C771.7 325.0 767.5 363.3 760.0 400.0C752.5 436.7 740.0 475.0 720.0 510.0C700.0 545.0 673.3 580.0 640.0 610.0C606.7 640.0 563.3 671.7 520.0 690.0C476.7 708.3 426.7 718.3 380.0 720.0C333.3 721.7 281.7 713.3 240.0 700.0C198.3 686.7 157.5 668.3 130.0 640.0C102.5 611.7 84.7 566.7 75.0 530.0C65.3 493.3 66.2 458.3 72.0 420.0C77.8 381.7 88.7 340.0 110.0 300.0C131.3 260.0 163.3 212.5 200.0 180.0C236.7 147.5 283.3 121.7 330.0 105.0C376.7 88.3 431.7 80.0 480.0 80.0Z"/>
<path class="k" vector-effect="non-scaling-stroke" d="M540.0 160.0C581.7 162.5 627.5 166.7 660.0 185.0C692.5 203.3 720.8 240.8 735.0 270.0C749.2 299.2 748.3 326.7 745.0 360.0C741.7 393.3 730.8 435.0 715.0 470.0C699.2 505.0 677.5 540.0 650.0 570.0C622.5 600.0 588.3 628.3 550.0 650.0C511.7 671.7 465.0 690.8 420.0 700.0C375.0 709.2 321.7 713.3 280.0 705.0C238.3 696.7 195.8 674.2 170.0 650.0C144.2 625.8 130.8 595.0 125.0 560.0C119.2 525.0 124.2 480.0 135.0 440.0C145.8 400.0 164.2 356.7 190.0 320.0C215.8 283.3 253.3 245.0 290.0 220.0C326.7 195.0 368.3 180.0 410.0 170.0C451.7 160.0 498.3 157.5 540.0 160.0Z"/>
<path class="k" vector-effect="non-scaling-stroke" d="M150.0 670.0C166.7 683.3 208.3 730.0 250.0 750.0C291.7 770.0 350.0 786.7 400.0 790.0C450.0 793.3 501.7 786.7 550.0 770.0C598.3 753.3 658.3 715.0 690.0 690.0C721.7 665.0 731.7 631.7 740.0 620.0"/>
<path class="k" vector-effect="non-scaling-stroke" d="M560 110C610 125 650 145 670 175M100 430C100 480 105 520 120 550M600 650L640 700"/>
<ellipse class="k" vector-effect="non-scaling-stroke" cx="910" cy="330" rx="25" ry="30" style="fill:#fff"/>
<path class="k" vector-effect="non-scaling-stroke" d="M890 320C900 310 920 315 930 330M890 340C900 330 920 335 930 350"/>
<ellipse class="k" vector-effect="non-scaling-stroke" cx="850" cy="440" rx="30" ry="35" style="fill:#fff"/>
<path class="k" vector-effect="non-scaling-stroke" d="M825 425C840 412 860 415 875 430M822 445C837 432 857 435 872 450M825 465C840 452 860 455 875 470"/>
<ellipse class="k" vector-effect="non-scaling-stroke" cx="820" cy="565" rx="35" ry="28" style="fill:#fff"/>
</g>

<!-- THROTTLE 16/17 -->
<g transform="translate(455 305) scale(0.14217)">
<path class="k" vector-effect="non-scaling-stroke" d="M420.0 880.0C421.7 888.3 420.0 911.7 430.0 930.0C440.0 948.3 451.7 970.0 480.0 990.0C508.3 1010.0 563.3 1035.8 600.0 1050.0C636.7 1064.2 666.7 1073.3 700.0 1075.0C733.3 1076.7 770.0 1070.8 800.0 1060.0C830.0 1049.2 858.3 1030.0 880.0 1010.0C901.7 990.0 918.3 965.0 930.0 940.0C941.7 915.0 950.0 886.7 950.0 860.0C950.0 833.3 941.7 801.7 930.0 780.0C918.3 758.3 891.7 740.0 880.0 730.0C868.3 720.0 863.3 721.7 860.0 720.0"/>
<path class="k" vector-effect="non-scaling-stroke" d="M445.0 895.0C448.3 903.3 451.7 929.2 465.0 945.0C478.3 960.8 499.2 975.0 525.0 990.0C550.8 1005.0 587.5 1025.0 620.0 1035.0C652.5 1045.0 687.5 1050.8 720.0 1050.0C752.5 1049.2 785.8 1043.7 815.0 1030.0C844.2 1016.3 876.7 993.0 895.0 968.0C913.3 943.0 923.3 908.8 925.0 880.0C926.7 851.2 914.2 817.5 905.0 795.0C895.8 772.5 875.8 753.3 870.0 745.0"/>
<path class="k" vector-effect="non-scaling-stroke" style="fill:#fff;stroke:none" d="M150.0 580.0C158.3 596.7 181.7 650.0 200.0 680.0C218.3 710.0 223.3 731.7 260.0 760.0C296.7 788.3 383.3 833.3 420.0 850.0C456.7 866.7 426.7 861.7 480.0 860.0C533.3 858.3 686.7 846.7 740.0 840.0C793.3 833.3 783.3 833.3 800.0 820.0C816.7 806.7 835.0 780.0 840.0 760.0C845.0 740.0 836.7 720.0 830.0 700.0C823.3 680.0 810.0 660.0 800.0 640.0C790.0 620.0 779.2 603.3 770.0 580.0C760.8 556.7 750.0 530.0 745.0 500.0C740.0 470.0 740.8 416.7 740.0 400.0L740 250L150 580Z"/>
<path class="k" vector-effect="non-scaling-stroke" d="M150.0 580.0C158.3 596.7 181.7 650.0 200.0 680.0C218.3 710.0 223.3 731.7 260.0 760.0C296.7 788.3 383.3 833.3 420.0 850.0C456.7 866.7 426.7 861.7 480.0 860.0C533.3 858.3 686.7 846.7 740.0 840.0C793.3 833.3 783.3 833.3 800.0 820.0C816.7 806.7 835.0 780.0 840.0 760.0C845.0 740.0 836.7 720.0 830.0 700.0C823.3 680.0 810.0 660.0 800.0 640.0C790.0 620.0 779.2 603.3 770.0 580.0C760.8 556.7 750.0 530.0 745.0 500.0C740.0 470.0 740.8 416.7 740.0 400.0"/>
<path class="k" vector-effect="non-scaling-stroke" style="fill:#fff" d="M670.0 180.0C678.3 191.7 708.3 225.0 720.0 250.0C731.7 275.0 738.3 301.7 740.0 330.0C741.7 358.3 738.3 388.3 730.0 420.0C721.7 451.7 708.3 491.7 690.0 520.0C671.7 548.3 648.3 568.3 620.0 590.0C591.7 611.7 556.7 633.3 520.0 650.0C483.3 666.7 436.7 685.0 400.0 690.0C363.3 695.0 336.7 691.7 300.0 680.0C263.3 668.3 205.0 636.7 180.0 620.0C155.0 603.3 155.0 586.7 150.0 580.0L150 560Z"/>
<path class="k" vector-effect="non-scaling-stroke" d="M670.0 180.0C678.3 191.7 708.3 225.0 720.0 250.0C731.7 275.0 738.3 301.7 740.0 330.0C741.7 358.3 738.3 388.3 730.0 420.0C721.7 451.7 708.3 491.7 690.0 520.0C671.7 548.3 648.3 568.3 620.0 590.0C591.7 611.7 556.7 633.3 520.0 650.0C483.3 666.7 436.7 685.0 400.0 690.0C363.3 695.0 336.7 691.7 300.0 680.0C263.3 668.3 205.0 636.7 180.0 620.0C155.0 603.3 155.0 586.7 150.0 580.0"/>
<path class="k" vector-effect="non-scaling-stroke" style="fill:#fff" d="M470.0 50.0C516.7 50.0 556.7 63.3 590.0 80.0C623.3 96.7 650.0 121.7 670.0 150.0C690.0 178.3 704.2 215.0 710.0 250.0C715.8 285.0 711.7 325.0 705.0 360.0C698.3 395.0 687.5 428.3 670.0 460.0C652.5 491.7 628.3 525.0 600.0 550.0C571.7 575.0 536.7 595.8 500.0 610.0C463.3 624.2 421.7 633.3 380.0 635.0C338.3 636.7 288.3 632.5 250.0 620.0C211.7 607.5 177.5 585.0 150.0 560.0C122.5 535.0 98.3 500.0 85.0 470.0C71.7 440.0 67.5 413.3 70.0 380.0C72.5 346.7 81.7 306.7 100.0 270.0C118.3 233.3 145.0 191.7 180.0 160.0C215.0 128.3 261.7 98.3 310.0 80.0C358.3 61.7 423.3 50.0 470.0 50.0Z"/>
<path class="k" vector-effect="non-scaling-stroke" d="M470.0 100.0C505.0 101.7 541.7 106.7 570.0 120.0C598.3 133.3 624.2 155.0 640.0 180.0C655.8 205.0 663.3 236.7 665.0 270.0C666.7 303.3 660.8 346.7 650.0 380.0C639.2 413.3 621.7 443.3 600.0 470.0C578.3 496.7 550.0 522.5 520.0 540.0C490.0 557.5 455.0 568.3 420.0 575.0C385.0 581.7 346.7 585.8 310.0 580.0C273.3 574.2 229.2 561.7 200.0 540.0C170.8 518.3 147.5 480.0 135.0 450.0C122.5 420.0 120.8 393.3 125.0 360.0C129.2 326.7 139.2 283.3 160.0 250.0C180.8 216.7 216.7 183.3 250.0 160.0C283.3 136.7 323.3 120.0 360.0 110.0C396.7 100.0 435.0 98.3 470.0 100.0Z"/>
<path class="k" vector-effect="non-scaling-stroke" d="M450.0 140.0C480.0 140.8 521.7 140.0 550.0 150.0C578.3 160.0 605.0 178.3 620.0 200.0C635.0 221.7 640.0 251.7 640.0 280.0C640.0 308.3 631.7 341.7 620.0 370.0C608.3 398.3 593.3 425.0 570.0 450.0C546.7 475.0 511.7 501.7 480.0 520.0C448.3 538.3 413.3 552.5 380.0 560.0C346.7 567.5 310.0 571.7 280.0 565.0C250.0 558.3 221.7 542.5 200.0 520.0C178.3 497.5 158.3 460.0 150.0 430.0C141.7 400.0 143.3 370.0 150.0 340.0C156.7 310.0 168.3 276.7 190.0 250.0C211.7 223.3 250.0 197.5 280.0 180.0C310.0 162.5 341.7 151.7 370.0 145.0C398.3 138.3 420.0 139.2 450.0 140.0Z"/>
<path class="k" vector-effect="non-scaling-stroke" d="M410 230C450 210 520 195 580 200C600 210 615 230 620 250M300 320C340 305 400 300 450 315C500 330 560 360 600 390M300 570C320 520 350 470 420 435C470 415 530 410 570 430M220 370C205 400 205 450 220 540M160 590C200 620 260 660 330 690M170 610C210 640 270 670 330 680M400 150L600 175M420 180L600 200"/>
<path class="k" vector-effect="non-scaling-stroke" d="M620 590L660 585M600 620C585 650 595 700 650 770M630 820L760 800C800 790 830 770 840 740M690 680L705 720"/>
<ellipse class="k" vector-effect="non-scaling-stroke" cx="750" cy="740" rx="45" ry="38"/>
<ellipse class="k" vector-effect="non-scaling-stroke" cx="745" cy="742" rx="28" ry="24"/>
<path class="k" vector-effect="non-scaling-stroke" d="M690 720C680 750 690 780 660 800M760 650C755 665 750 670 740 672"/>
</g>

<!-- SCREW 18 -->
<g>
<g class="t" style="stroke-width:1.2"><path d="M549.5 394.6L600.7 386.1M606 385.3L610 384.7M615 384L645.6 379.1L639.1 366.2M549.5 394.6L560 408.8"/>
</g>
<path class="k" d="M640.71 361.82 L631.21 344.02 A2.10 4.20 -118.1 0 0 623.79 347.98 L633.29 365.78 A2.10 4.20 -118.1 0 0 640.71 361.82 Z" style="fill:#fff"/><path class="k" d="M625.44 351.07 A2.2 4.2 61.9 0 0 632.85 347.11"/><path class="k" d="M626.86 353.71 A2.2 4.2 61.9 0 0 634.27 349.76"/><path class="k" d="M628.27 356.36 A2.2 4.2 61.9 0 0 635.68 352.40"/><path class="k" d="M629.68 359.01 A2.2 4.2 61.9 0 0 637.09 355.05"/><path class="k" d="M631.09 361.65 A2.2 4.2 61.9 0 0 638.50 357.70"/><path class="k" d="M632.51 364.30 A2.2 4.2 61.9 0 0 639.92 360.34"/><ellipse class="k" cx="625.60" cy="342.30" rx="8.60" ry="6.60" transform="rotate(-22.0 625.60 342.30)" style="fill:#fff"/><path class="k" d="M622 342.5L629 341M626.5 338.5L623.5 345"/></g>

<!-- 27 28 29 -->
<g>
<path class="k" d="M225.80 508.89 L244.69 516.97 A1.72 4.10 23.2 0 0 247.91 509.43 L229.03 501.35 A1.72 4.10 23.2 0 0 225.80 508.89 Z" style="fill:#fff"/><ellipse class="k" cx="227.41" cy="505.12" rx="1.72" ry="4.10" transform="rotate(23.2 227.41 505.12)"/><path class="k" d="M242.39 515.99 A1.7 4.1 23.2 0 0 245.61 508.45"/><path class="k" d="M239.91 514.93 A1.7 4.1 23.2 0 0 243.13 507.39"/><path class="k" d="M237.42 513.86 A1.7 4.1 23.2 0 0 240.65 506.32"/><path class="k" d="M234.94 512.80 A1.7 4.1 23.2 0 0 238.17 505.26"/><path class="k" d="M232.46 511.74 A1.7 4.1 23.2 0 0 235.68 504.20"/><path class="k" d="M229.98 510.68 A1.7 4.1 23.2 0 0 233.20 503.14"/><path class="k" d="M227.49 509.62 A1.7 4.1 23.2 0 0 230.72 502.08"/><path class="k" d="M213.17 510.45 L223.29 514.78 A4.41 10.50 23.2 0 0 231.54 495.47 L221.43 491.15 A4.41 10.50 23.2 0 0 213.17 510.45 Z" style="fill:#fff"/><ellipse class="k" cx="217.30" cy="500.80" rx="4.41" ry="10.50" transform="rotate(23.2 217.30 500.80)"/><path class="k" d="M220.60 493.08 L230.72 497.40" style="stroke-width:1"/><path class="k" d="M219.16 496.46 L229.27 500.78" style="stroke-width:1"/><path class="k" d="M217.71 499.83 L227.83 504.16" style="stroke-width:1"/><path class="k" d="M216.27 503.21 L226.38 507.54" style="stroke-width:1"/><path class="k" d="M214.82 506.59 L224.94 510.92" style="stroke-width:1"/><path class="k" d="M213.58 509.49 L223.70 513.81" style="stroke-width:1"/><ellipse class="k" cx="217.30" cy="500.80" rx="4.40" ry="10.50" transform="rotate(23.2 217.30 500.80)" style="fill:#fff"/></g>

<!-- PLATE 27 + ORING 29 -->
<g transform="translate(205 480) scale(0.14706)">
<path class="k" vector-effect="non-scaling-stroke" style="fill:#fff" d="M305.0 320.0C308.3 303.3 314.2 277.5 330.0 260.0C345.8 242.5 376.7 228.3 400.0 215.0C423.3 201.7 446.7 205.8 470.0 180.0C493.3 154.2 518.3 84.2 540.0 60.0C561.7 35.8 580.0 37.5 600.0 35.0C620.0 32.5 643.3 46.7 660.0 45.0C676.7 43.3 683.3 30.8 700.0 25.0C716.7 19.2 740.0 9.2 760.0 10.0C780.0 10.8 805.0 20.0 820.0 30.0C835.0 40.0 846.7 51.7 850.0 70.0C853.3 88.3 850.0 118.3 840.0 140.0C830.0 161.7 810.0 180.0 790.0 200.0C770.0 220.0 736.7 243.3 720.0 260.0C703.3 276.7 706.7 280.0 690.0 300.0C673.3 320.0 645.0 363.3 620.0 380.0C595.0 396.7 565.0 393.3 540.0 400.0C515.0 406.7 490.0 415.0 470.0 420.0C450.0 425.0 440.0 433.3 420.0 430.0C400.0 426.7 368.3 411.7 350.0 400.0C331.7 388.3 317.5 373.3 310.0 360.0C302.5 346.7 301.7 336.7 305.0 320.0Z"/>
<path class="k" vector-effect="non-scaling-stroke" d="M310 340C330 320 360 300 400 270L480 230M330 380C350 395 380 410 420 420"/>
<ellipse class="k" vector-effect="non-scaling-stroke" cx="605" cy="255" rx="105" ry="150" transform="rotate(30 605 255)"/>
<ellipse class="k" vector-effect="non-scaling-stroke" cx="600" cy="258" rx="90" ry="132" transform="rotate(30 600 258)"/>
<ellipse class="k" vector-effect="non-scaling-stroke" cx="600" cy="250" rx="55" ry="85" transform="rotate(30 600 250)"/>
<path class="k" vector-effect="non-scaling-stroke" d="M560 300C550 260 570 200 610 175M640 190C655 220 650 270 620 300"/>
<path class="k" vector-effect="non-scaling-stroke" d="M460 300C430 305 410 330 415 360C420 380 440 385 460 375M810 100C785 100 765 120 770 150C775 170 795 175 810 165"/>
<path class="k" vector-effect="non-scaling-stroke" d="M700 110L740 60M720 140L760 120"/>
<ellipse class="k" vector-effect="non-scaling-stroke" cx="840" cy="372" rx="108" ry="148" transform="rotate(32 840 372)"/>
<ellipse class="k" vector-effect="non-scaling-stroke" cx="840" cy="372" rx="92" ry="132" transform="rotate(32 840 372)"/>
</g>

<!-- CAM HOLDERS 3 -->
<defs><g id="camh">
<path class="k" vector-effect="non-scaling-stroke" style="fill:#fff" d="M195 440L205 540C215 560 240 575 300 582L312 548L300 500Z"/>
<path class="k" vector-effect="non-scaling-stroke" style="fill:#fff" d="M60 300C75 290 100 285 130 285L190 240L200 165C205 150 220 142 240 140L340 78C355 70 370 70 385 78C400 90 415 120 440 170L465 190L470 240L430 270L420 300L560 370L630 430C650 430 660 410 670 400L780 322C800 315 830 325 870 360C900 390 920 420 925 455C925 490 910 515 875 545C860 570 850 600 860 640C870 670 900 690 915 700L930 730L928 790L870 830L800 862C770 862 745 855 720 840L680 810L640 745L150 410C120 410 90 405 70 395C50 380 45 340 60 300Z"/>
<path class="k" vector-effect="non-scaling-stroke" d="M130 285C140 300 150 330 148 360C146 380 140 395 135 405M190 240C230 250 260 270 290 265M300 250L450 195M320 272L460 212M290 265L640 440M320 270L420 330M480 380L610 440M440 170L430 215L420 300"/>
<path class="k" vector-effect="non-scaling-stroke" d="M670 400C690 420 700 440 690 470C670 520 690 570 700 600L690 640M800 320L810 470L800 540C790 600 800 650 800 700L805 855M640 745C660 720 700 700 740 720M870 830L860 770L855 720"/>
<path class="k" vector-effect="non-scaling-stroke" d="M700 420C740 430 790 470 800 520M270 185C250 175 230 185 230 210C230 230 250 240 270 230M770 470C750 460 730 475 732 500C734 520 752 528 770 518M770 720C750 710 730 725 732 750C734 770 752 778 770 768"/>
<ellipse class="k" vector-effect="non-scaling-stroke" cx="95" cy="348" rx="42" ry="55" transform="rotate(20 95 348)" style="fill:#fff"/>
<ellipse class="k" vector-effect="non-scaling-stroke" cx="97" cy="350" rx="24" ry="32" transform="rotate(20 97 350)"/>
<ellipse class="k" vector-effect="non-scaling-stroke" cx="680" cy="680" rx="38" ry="48" transform="rotate(20 680 680)" style="fill:#fff"/>
<ellipse class="k" vector-effect="non-scaling-stroke" cx="682" cy="682" rx="20" ry="28" transform="rotate(20 682 682)"/>
<ellipse class="k" vector-effect="non-scaling-stroke" cx="762" cy="790" rx="40" ry="50" transform="rotate(20 762 790)" style="fill:#fff"/>
<ellipse class="k" vector-effect="non-scaling-stroke" cx="764" cy="792" rx="22" ry="30" transform="rotate(20 764 792)"/>
</g></defs>
<use href="#camh" transform="translate(400 725) scale(0.13725)"/>
<use href="#camh" transform="translate(421.5 818.8) scale(0.13725)"/>

<!-- SEAL 22, PLUG 15 -->
<g transform="translate(305 910) scale(0.13725)">
<ellipse class="k" vector-effect="non-scaling-stroke" cx="262" cy="272" rx="122" ry="192" transform="rotate(-22 262 272)" style="fill:#fff"/>
<ellipse class="k" vector-effect="non-scaling-stroke" cx="200" cy="285" rx="125" ry="190" transform="rotate(-22 200 285)" style="fill:#fff"/>
<ellipse class="k" vector-effect="non-scaling-stroke" cx="210" cy="282" rx="108" ry="172" transform="rotate(-22 210 282)"/>
<ellipse class="k" vector-effect="non-scaling-stroke" cx="222" cy="282" rx="88" ry="150" transform="rotate(-22 222 282)"/>
<path class="k" vector-effect="non-scaling-stroke" d="M100 150C130 110 180 100 210 110M310 360C330 390 335 420 320 440"/>
</g>
<!-- PLUG 15 -->
<g>
<path class="k" d="M368.92 1037.68 L375.32 1033.88 A0.80 1.60 -30.7 0 0 373.68 1031.12 L367.28 1034.92 A0.80 1.60 -30.7 0 0 368.92 1037.68 Z" style="fill:#fff"/><ellipse class="k" cx="368.10" cy="1036.30" rx="0.80" ry="1.60" transform="rotate(-30.7 368.10 1036.30)"/><path class="k" d="M376.38 1037.46 L406.88 1020.76 A2.10 6.00 -28.7 0 0 401.12 1010.24 L370.62 1026.94 A2.10 6.00 -28.7 0 0 376.38 1037.46 Z" style="fill:#fff"/><ellipse class="k" cx="373.50" cy="1032.20" rx="2.10" ry="6.00" transform="rotate(-28.7 373.50 1032.20)"/><path class="k" d="M379.01 1036.02 A2.1 6 -28.7 0 1 373.25 1025.50"/><path class="k" d="M381.91 1034.44 A2.1 6 -28.7 0 1 376.14 1023.91"/><path class="k" d="M384.80 1032.85 A2.1 6 -28.7 0 1 379.04 1022.33"/><path class="k" d="M387.70 1031.27 A2.1 6 -28.7 0 1 381.93 1020.74"/><path class="k" d="M390.59 1029.68 A2.1 6 -28.7 0 1 384.83 1019.16"/><path class="k" d="M393.49 1028.10 A2.1 6 -28.7 0 1 387.72 1017.57"/><path class="k" d="M396.38 1026.51 A2.1 6 -28.7 0 1 390.62 1015.99"/><path class="k" d="M399.27 1024.93 A2.1 6 -28.7 0 1 393.51 1014.40"/><path class="k" d="M402.17 1023.34 A2.1 6 -28.7 0 1 396.41 1012.82"/><path class="k" d="M405.06 1021.76 A2.1 6 -28.7 0 1 399.30 1011.23"/><path class="k" d="M405.35 1025.09 L412.85 1020.79 A3.06 8.75 -29.8 0 0 404.15 1005.61 L396.65 1009.91 A3.06 8.75 -29.8 0 0 405.35 1025.09 Z" style="fill:#fff"/><ellipse class="k" cx="401.00" cy="1017.50" rx="3.06" ry="8.75" transform="rotate(-29.8 401.00 1017.50)"/><path class="k" d="M412.62 1021.52 L425.12 1014.32 A3.24 9.25 -29.9 0 0 415.88 998.28 L403.38 1005.48 A3.24 9.25 -29.9 0 0 412.62 1021.52 Z" style="fill:#fff"/><ellipse class="k" cx="408.00" cy="1013.50" rx="3.24" ry="9.25" transform="rotate(-29.9 408.00 1013.50)"/><path class="k" d="M411 1003L416 1000M413 1024L418 1021"/><path class="k" d="M422.55 1011.09 L440.55 1001.09 A1.84 5.25 -29.1 0 0 435.45 991.91 L417.45 1001.91 A1.84 5.25 -29.1 0 0 422.55 1011.09 Z" style="fill:#fff"/><ellipse class="k" cx="420.00" cy="1006.50" rx="1.84" ry="5.25" transform="rotate(-29.1 420.00 1006.50)"/><path class="k" d="M425.61 1009.39 A1.8 5.25 -29.1 0 1 420.51 1000.21"/><path class="k" d="M428.76 1007.64 A1.8 5.25 -29.1 0 1 423.66 998.46"/><path class="k" d="M431.90 1005.89 A1.8 5.25 -29.1 0 1 426.80 996.71"/><path class="k" d="M435.05 1004.14 A1.8 5.25 -29.1 0 1 429.95 994.97"/><path class="k" d="M438.20 1002.40 A1.8 5.25 -29.1 0 1 433.10 993.22"/><path class="k" d="M438.71 998.99 L443.21 996.49 A1.00 2.50 -29.1 0 0 440.79 992.11 L436.29 994.61 A1.00 2.50 -29.1 0 0 438.71 998.99 Z" style="fill:#fff"/><ellipse class="k" cx="437.50" cy="996.80" rx="1.00" ry="2.50" transform="rotate(-29.1 437.50 996.80)"/></g>

<!-- BOLTS 3 DOWELS 2 -->
<g>
<path class="k" d="M398.03 769.39 L366.13 783.39 A1.43 3.40 156.3 0 0 368.87 789.61 L400.77 775.61 A1.43 3.40 156.3 0 0 398.03 769.39 Z" style="fill:#fff"/><ellipse class="k" cx="399.40" cy="772.50" rx="1.43" ry="3.40" transform="rotate(156.3 399.40 772.50)"/><path class="k" d="M399.12 776.34 A1.43 3.40 -23.7 0 0 396.39 770.11"/><path class="k" d="M396.83 777.34 A1.43 3.40 -23.7 0 0 394.10 771.11"/><path class="k" d="M394.54 778.35 A1.43 3.40 -23.7 0 0 391.81 772.12"/><path class="k" d="M392.25 779.35 A1.43 3.40 -23.7 0 0 389.52 773.12"/><path class="k" d="M389.96 780.36 A1.43 3.40 -23.7 0 0 387.23 774.13"/><path class="k" d="M387.67 781.36 A1.43 3.40 -23.7 0 0 384.94 775.13"/><path class="k" d="M364.69 794.28 L368.81 792.48 A2.52 6.00 -23.7 0 0 363.99 781.49 L359.87 783.30 A2.52 6.00 -23.7 0 0 364.69 794.28 Z" style="fill:#fff"/><ellipse class="k" cx="362.28" cy="788.79" rx="2.52" ry="6.00" transform="rotate(-23.7 362.28 788.79)"/><path class="k" d="M369.54 794.12 L370.91 793.52 A3.28 7.80 -23.7 0 0 364.64 779.24 L363.27 779.84 A3.28 7.80 -23.7 0 0 369.54 794.12 Z" style="fill:#fff"/><ellipse class="k" cx="366.40" cy="786.98" rx="3.28" ry="7.80" transform="rotate(-23.7 366.40 786.98)"/><path class="k" d="M364.69 794.28 L368.81 792.48 A2.52 6.00 -23.7 0 0 363.99 781.49 L359.87 783.30 A2.52 6.00 -23.7 0 0 364.69 794.28 Z" style="fill:#fff"/><ellipse class="k" cx="362.28" cy="788.79" rx="2.52" ry="6.00" transform="rotate(-23.7 362.28 788.79)"/><path class="k" d="M511.85 932.57 L476.95 950.47 A1.43 3.40 152.8 0 0 480.05 956.53 L514.95 938.63 A1.43 3.40 152.8 0 0 511.85 932.57 Z" style="fill:#fff"/><ellipse class="k" cx="513.40" cy="935.60" rx="1.43" ry="3.40" transform="rotate(152.8 513.40 935.60)"/><path class="k" d="M513.35 939.45 A1.43 3.40 -27.2 0 0 510.25 933.40"/><path class="k" d="M511.13 940.59 A1.43 3.40 -27.2 0 0 508.02 934.54"/><path class="k" d="M508.90 941.73 A1.43 3.40 -27.2 0 0 505.80 935.68"/><path class="k" d="M506.68 942.87 A1.43 3.40 -27.2 0 0 503.57 936.82"/><path class="k" d="M504.45 944.01 A1.43 3.40 -27.2 0 0 501.35 937.96"/><path class="k" d="M502.23 945.15 A1.43 3.40 -27.2 0 0 499.12 939.10"/><path class="k" d="M476.17 961.44 L480.17 959.39 A2.52 6.00 -27.2 0 0 474.69 948.71 L470.69 950.76 A2.52 6.00 -27.2 0 0 476.17 961.44 Z" style="fill:#fff"/><ellipse class="k" cx="473.43" cy="956.10" rx="2.52" ry="6.00" transform="rotate(-27.2 473.43 956.10)"/><path class="k" d="M480.99 960.99 L482.33 960.30 A3.28 7.80 -27.2 0 0 475.21 946.42 L473.87 947.11 A3.28 7.80 -27.2 0 0 480.99 960.99 Z" style="fill:#fff"/><ellipse class="k" cx="477.43" cy="954.05" rx="3.28" ry="7.80" transform="rotate(-27.2 477.43 954.05)"/><path class="k" d="M476.17 961.44 L480.17 959.39 A2.52 6.00 -27.2 0 0 474.69 948.71 L470.69 950.76 A2.52 6.00 -27.2 0 0 476.17 961.44 Z" style="fill:#fff"/><ellipse class="k" cx="473.43" cy="956.10" rx="2.52" ry="6.00" transform="rotate(-27.2 473.43 956.10)"/><path class="k" d="M467.29 739.94 L482.79 731.94 A2.10 5.00 -27.3 0 0 478.21 723.06 L462.71 731.06 A2.10 5.00 -27.3 0 0 467.29 739.94 Z" style="fill:#fff"/><ellipse class="k" cx="465.00" cy="735.50" rx="2.10" ry="5.00" transform="rotate(-27.3 465.00 735.50)"/><ellipse class="k" cx="465.00" cy="735.50" rx="2.10" ry="3.20" transform="rotate(-27.0 465.00 735.50)"/><path class="k" d="M560.45 914.36 L576.45 905.36 A2.10 5.00 -29.4 0 0 571.55 896.64 L555.55 905.64 A2.10 5.00 -29.4 0 0 560.45 914.36 Z" style="fill:#fff"/><ellipse class="k" cx="558.00" cy="910.00" rx="2.10" ry="5.00" transform="rotate(-29.4 558.00 910.00)"/><ellipse class="k" cx="558.00" cy="910.00" rx="2.10" ry="3.20" transform="rotate(-27.0 558.00 910.00)"/></g>

<!-- GASKET 21 -->
<g style="fill:none;stroke-linejoin:round;stroke-linecap:butt">
<path d="M127.0 882.0 L127.0 852.0 L129.5 845.0 L133.5 839.0 L137.5 837.5 L165.0 853.0 L169.0 857.0 L172.0 868.0 L176.0 874.5 L188.0 879.0 L284.0 935.0 L293.0 940.0 L302.0 952.0 L311.0 967.0 L313.5 975.0 L314.6 990.0 L314.8 1020.0 L312.0 1025.0 L303.0 1021.0 L300.0 1024.0 L300.0 1061.0 L303.5 1066.0 L313.0 1071.0 L316.0 1078.0 L316.0 1125.0 L312.0 1128.0 L303.0 1128.0 L273.0 1112.0 L240.0 1095.0" style="stroke:#000;stroke-width:10.4"/>
<path d="M127.0 882.0 L127.0 852.0 L129.5 845.0 L133.5 839.0 L137.5 837.5 L165.0 853.0 L169.0 857.0 L172.0 868.0 L176.0 874.5 L188.0 879.0 L284.0 935.0 L293.0 940.0 L302.0 952.0 L311.0 967.0 L313.5 975.0 L314.6 990.0 L314.8 1020.0 L312.0 1025.0 L303.0 1021.0 L300.0 1024.0 L300.0 1061.0 L303.5 1066.0 L313.0 1071.0 L316.0 1078.0 L316.0 1125.0 L312.0 1128.0 L303.0 1128.0 L273.0 1112.0 L240.0 1095.0" style="stroke:#fff;stroke-width:7.8"/>
<path d="M127.0 882.0 L127.0 852.0 L129.5 845.0 L133.5 839.0 L137.5 837.5 L165.0 853.0 L169.0 857.0 L172.0 868.0 L176.0 874.5 L188.0 879.0 L284.0 935.0 L293.0 940.0 L302.0 952.0 L311.0 967.0 L313.5 975.0 L314.6 990.0 L314.8 1020.0 L312.0 1025.0 L303.0 1021.0 L300.0 1024.0 L300.0 1061.0 L303.5 1066.0 L313.0 1071.0 L316.0 1078.0 L316.0 1125.0 L312.0 1128.0 L303.0 1128.0 L273.0 1112.0 L240.0 1095.0" style="stroke:#000;stroke-width:1.3"/>
<circle cx="185.5" cy="868.8" r="7.2" style="fill:#fff;stroke:#000;stroke-width:1.3"/><circle cx="185.5" cy="868.8" r="4" style="fill:none;stroke:#000;stroke-width:1.3"/>
<circle cx="291.7" cy="930.8" r="7.2" style="fill:#fff;stroke:#000;stroke-width:1.3"/><circle cx="291.7" cy="930.8" r="4" style="fill:none;stroke:#000;stroke-width:1.3"/>
<path d="M131.5 858.5C139 860 143.5 868 143.5 876C143.5 884 139 890 132 891.5M131.5 858.5L131.5 891.5M138 866C136 864 134.5 865 133.5 866M133.5 885.5L137.5 880" style="fill:#fff;stroke:#000;stroke-width:1.3"/>
</g>

<!-- COVER 20 -->
<g>
<path class="k" style="fill:#fff" d="M90.9 862.0C94.2 863.6 115.7 876.9 119.1 879.2C122.5 881.6 123.8 884.1 124.6 885.5C125.4 886.9 114.6 885.5 127.0 893.3C139.4 901.1 235.0 955.3 248.3 963.3C261.6 971.3 258.0 971.0 260.0 973.3C262.0 975.6 267.2 983.0 268.3 986.7C269.4 990.4 270.5 1004.3 270.8 1010.0C271.1 1015.7 271.4 1040.2 271.0 1044.0C270.6 1047.8 268.0 1047.7 266.7 1048.3C265.4 1048.9 258.9 1046.2 258.0 1050.0C257.1 1053.8 257.5 1081.8 258.0 1086.0C258.5 1090.2 261.8 1090.8 263.0 1092.0C264.2 1093.2 269.2 1092.2 270.0 1098.0C270.8 1103.8 271.5 1144.2 271.0 1150.0C270.5 1155.8 266.6 1155.2 265.0 1156.0C263.4 1156.8 258.5 1157.9 255.0 1158.0C251.5 1158.1 237.3 1158.9 230.0 1157.0C222.7 1155.1 189.2 1142.0 181.9 1139.0C174.6 1136.0 159.5 1129.0 156.8 1126.5C154.1 1124.0 158.3 1116.7 155.2 1113.9C152.1 1111.1 129.3 1099.4 125.4 1098.2C121.5 1097.0 119.5 1103.3 116.0 1102.2C112.5 1101.1 93.6 1089.4 90.9 1087.3C88.2 1085.2 91.8 1083.0 89.3 1081.0C86.8 1079.0 68.8 1068.9 65.8 1066.9C62.8 1064.9 60.4 1061.9 59.5 1060.6C58.6 1059.3 57.8 1054.8 56.4 1054.3C55.0 1053.8 47.3 1055.7 45.4 1055.9C43.5 1056.1 38.8 1056.4 37.5 1055.9C36.2 1055.4 32.7 1052.6 32.1 1051.2C31.5 1049.8 30.9 1043.7 31.3 1041.8C31.7 1039.9 34.8 1034.0 36.0 1032.4C37.2 1030.8 41.8 1027.4 43.8 1026.1C45.8 1024.8 54.8 1021.7 56.4 1019.8C58.0 1017.9 58.7 1009.5 59.5 1007.3C60.3 1005.1 62.9 999.5 64.2 997.8C65.5 996.1 71.3 993.9 72.1 990.0C72.9 986.1 72.7 962.8 72.1 959.2C71.5 955.7 67.1 955.8 65.8 954.5C64.5 953.2 59.8 948.7 58.7 946.7C57.6 944.7 55.3 936.9 54.8 934.1C54.3 931.3 53.8 921.5 54.0 918.4C54.2 915.3 55.7 905.5 56.4 902.7C57.1 899.9 59.7 892.4 61.1 890.2C62.5 888.0 68.6 883.0 70.5 880.8C72.4 878.6 78.3 869.9 79.9 868.2C81.5 866.5 85.1 864.1 86.2 863.5C87.3 862.9 87.6 860.4 90.9 862.0Z"/>
<path class="k" d="M72.0 884.0C73.0 882.8 80.4 873.5 82.0 872.0C83.6 870.5 84.6 867.7 88.0 869.0C91.4 870.3 112.7 882.8 116.0 885.0C119.3 887.2 120.2 889.7 121.0 891.0C121.8 892.3 111.1 890.3 123.5 898.0C135.9 905.7 231.8 960.1 245.0 968.0C258.1 975.9 253.3 974.9 255.0 977.0C256.7 979.1 260.9 985.7 262.0 989.0C263.1 992.3 265.1 1004.6 265.5 1010.0C265.9 1015.4 265.5 1039.7 265.5 1043.0"/>
<path class="k" d="M263.0 1096.0C263.3 1096.4 265.7 1094.6 266.0 1100.0C266.3 1105.4 266.6 1144.6 266.0 1150.0C265.4 1155.4 260.6 1153.6 260.0 1154.0"/>
<path class="k" d="M258 1050L258 1086M253 1050L253 1088L262 1094"/>
<path class="k" d="M69 886C63 892 60 898 58.5 906M116 890C112 894 106 898 103 900C98 900 93 902 92 906L91 912L92 920"/>
<path class="k" d="M39 1043C40 1037 45 1033 50 1033L55 1034C59 1037 62 1042 62 1047L62 1055M58 1034L62 1037"/>
<path class="k" d="M57 1046C55 1045 54 1047 54 1049C54 1052 56 1053 58 1051"/>
<path class="k" d="M72 990L72 1000L75 1015L78 1020"/>
<!-- COVER window -->
<g transform="translate(60 960) scale(0.13725)" class="k">
<path vector-effect="non-scaling-stroke" d="M220 200C225 185 240 178 255 180L290 190L600 360C612 370 620 380 620 395L620 560C615 575 600 582 585 578L560 575L270 420C258 410 250 400 245 385L230 330L220 250Z"/>
<path vector-effect="non-scaling-stroke" d="M260 200L260 320C265 335 275 342 290 338L320 322M340 220L340 300L480 380L580 390C588 392 592 398 592 405M350 380L600 510M270 420L580 560"/>
<path vector-effect="non-scaling-stroke" d="M300 45L760 285M220 60L220 130L270 145M215 125L300 130M160 200C170 170 190 150 215 140M160 200C170 250 190 300 215 330C230 380 225 420 220 460L230 540"/>
<path vector-effect="non-scaling-stroke" d="M230 460L700 700M240 545L620 720M260 620L710 860M80 0L85 260L170 300M0 400C20 330 40 280 80 230"/>
<path vector-effect="non-scaling-stroke" d="M600 300C610 280 640 270 680 280L720 330M620 380C650 410 680 430 700 445C730 460 760 480 755 510C745 540 700 570 680 590L650 625M700 445L750 420M640 640L760 700L900 740M700 700L700 760M880 470C900 500 940 520 990 520"/>
</g>
<!-- COVER upper hump -->
<g transform="translate(85 890) scale(0.19118)" class="k">
<path vector-effect="non-scaling-stroke" d="M30 110C45 95 70 80 100 70L150 40M30 110L30 180L45 200"/>
<path vector-effect="non-scaling-stroke" d="M40 120L500 370L575 345L810 460L900 540"/>
<path vector-effect="non-scaling-stroke" d="M80 230L420 420M90 390L360 540"/>
<path vector-effect="non-scaling-stroke" d="M510 400L510 460L570 350"/>
<path vector-effect="non-scaling-stroke" d="M775 470C745 510 720 560 710 610L700 650"/>
<path vector-effect="non-scaling-stroke" d="M930 570C900 590 880 620 872 660C868 700 875 725 890 740L940 740"/>
<path vector-effect="non-scaling-stroke" d="M850 560C830 600 820 650 825 700C830 750 850 790 880 820"/>
<path vector-effect="non-scaling-stroke" d="M575 595L760 690M600 615L600 700L650 740M575 595L575 640L600 660"/>
<path vector-effect="non-scaling-stroke" d="M500 660L520 700L760 800L920 830"/>
<path vector-effect="non-scaling-stroke" d="M290 580C310 565 340 560 360 575M380 600C390 620 400 640 400 660"/>
</g>
<!-- COVER lower hump -->
<g transform="translate(85 1030) scale(0.19118)" class="k">
<path vector-effect="non-scaling-stroke" d="M90 90L420 280M80 250L370 430M30 260L30 300L160 370L210 355M160 300L160 370"/>
<path vector-effect="non-scaling-stroke" d="M380 150L400 120L560 185L580 200M500 230L510 300L570 200M500 230L570 195"/>
<path vector-effect="non-scaling-stroke" d="M590 215L780 330L890 340"/>
<path vector-effect="non-scaling-stroke" d="M780 340C750 380 725 430 710 480L705 560"/>
<path vector-effect="non-scaling-stroke" d="M930 420C900 440 880 480 873 520C868 560 875 585 890 600L940 600"/>
<path vector-effect="non-scaling-stroke" d="M840 380C825 420 818 470 820 520C825 580 845 630 880 660"/>
<path vector-effect="non-scaling-stroke" d="M370 470L370 500L500 570L550 560L780 665L920 660"/>
</g>
<ellipse class="k" cx="86.50" cy="946.50" rx="14.50" ry="19.00" transform="rotate(-18.0 86.50 946.50)" style="fill:#fff"/><ellipse class="k" cx="87.00" cy="946.50" rx="12.80" ry="17.20" transform="rotate(-18.0 87.00 946.50)"/><ellipse class="k" cx="88.00" cy="946.50" rx="5.30" ry="9.00" transform="rotate(-18.0 88.00 946.50)"/><ellipse class="k" cx="169.00" cy="993.00" rx="14.50" ry="19.00" transform="rotate(-18.0 169.00 993.00)" style="fill:#fff"/><ellipse class="k" cx="169.50" cy="993.00" rx="12.80" ry="17.20" transform="rotate(-18.0 169.50 993.00)"/><ellipse class="k" cx="170.50" cy="993.00" rx="5.30" ry="9.00" transform="rotate(-18.0 170.50 993.00)"/><ellipse class="k" cx="86.50" cy="1060.00" rx="14.50" ry="19.00" transform="rotate(-18.0 86.50 1060.00)" style="fill:#fff"/><ellipse class="k" cx="87.00" cy="1060.00" rx="12.80" ry="17.20" transform="rotate(-18.0 87.00 1060.00)"/><ellipse class="k" cx="88.00" cy="1060.00" rx="5.30" ry="9.00" transform="rotate(-18.0 88.00 1060.00)"/><ellipse class="k" cx="170.60" cy="1104.30" rx="14.50" ry="19.00" transform="rotate(-18.0 170.60 1104.30)" style="fill:#fff"/><ellipse class="k" cx="171.10" cy="1104.30" rx="12.80" ry="17.20" transform="rotate(-18.0 171.10 1104.30)"/><ellipse class="k" cx="172.10" cy="1104.30" rx="5.30" ry="9.00" transform="rotate(-18.0 172.10 1104.30)"/></g>

<!-- 23 24 -->
<g>
<path class="k" d="M89.52 1160.87 L105.52 1152.37 A1.36 3.25 -28.0 0 0 102.48 1146.63 L86.48 1155.13 A1.36 3.25 -28.0 0 0 89.52 1160.87 Z" style="fill:#fff"/><ellipse class="k" cx="88.00" cy="1158.00" rx="1.36" ry="3.25" transform="rotate(-28.0 88.00 1158.00)"/><path class="k" d="M92.17 1159.46 A1.3 3.25 -28.0 0 1 89.12 1153.72"/><path class="k" d="M94.03 1158.48 A1.3 3.25 -28.0 0 1 90.98 1152.74"/><path class="k" d="M95.88 1157.49 A1.3 3.25 -28.0 0 1 92.83 1151.75"/><path class="k" d="M97.74 1156.51 A1.3 3.25 -28.0 0 1 94.69 1150.77"/><path class="k" d="M99.59 1155.52 A1.3 3.25 -28.0 0 1 96.54 1149.78"/><path class="k" d="M101.45 1154.54 A1.3 3.25 -28.0 0 1 98.40 1148.80"/><path class="k" d="M103.30 1153.55 A1.3 3.25 -28.0 0 1 100.25 1147.81"/><path class="k" d="M105.16 1152.57 A1.3 3.25 -28.0 0 1 102.11 1146.83"/><path class="k" style="fill:#fff" d="M83 1150C86 1152 88 1156 89 1160C89 1165 87 1168 84 1170L80 1172L76 1150Z"/><ellipse class="k" cx="77.50" cy="1162.50" rx="13.00" ry="17.00" transform="rotate(-22.0 77.50 1162.50)" style="fill:#fff"/><path class="k" d="M79 1160C76 1158 73 1160 73.5 1163.5C74 1167 77 1168 79.5 1166.5"/><ellipse class="k" cx="121.50" cy="1137.50" rx="13.50" ry="18.00" transform="rotate(-22.0 121.50 1137.50)" style="fill:#fff"/><ellipse class="k" cx="121.20" cy="1137.50" rx="11.50" ry="16.00" transform="rotate(-22.0 121.20 1137.50)"/><ellipse class="k" cx="120.50" cy="1136.50" rx="8.50" ry="12.00" transform="rotate(-22.0 120.50 1136.50)"/><ellipse class="k" cx="120.30" cy="1136.30" rx="5.50" ry="8.50" transform="rotate(-22.0 120.30 1136.30)"/><path class="k" d="M112 1128C115 1124 120 1123 124 1125M118 1148C121 1150 125 1150 128 1148"/></g>

<!-- DOWEL 4 -->
<g>
<path class="k" d="M632.27 1075.50 L645.27 1050.50 A4.88 6.50 -62.5 0 0 633.73 1044.50 L620.73 1069.50 A4.88 6.50 -62.5 0 0 632.27 1075.50 Z" style="fill:#fff"/><ellipse class="k" cx="626.50" cy="1072.50" rx="4.88" ry="6.50" transform="rotate(-62.5 626.50 1072.50)"/><ellipse class="k" cx="625.80" cy="1074.00" rx="4.30" ry="3.50" transform="rotate(-25.0 625.80 1074.00)"/></g>

<!-- LEADERS -->

<g class="t">
<path d="M574 267.4H520"/>
<path d="M675 353H638"/>
<path d="M394 399.6H408M408 359.8V434.3M408 359.8H465M408 434.3H427.5M458.5 434.3H514"/>
<path d="M223 462.3V491"/>
<path d="M288.7 462V485.6"/>
<path d="M337.4 483V514"/>
<path d="M515.9 482.8V523.7"/>
<path d="M596 515.4V545"/>
<path d="M399 504H437.6"/>
<path d="M399 535H437.6"/>
<path d="M860 524.4V557.5"/>
<path d="M977.7 549.6V588"/>
<path d="M944.6 574.7V611.8"/>
<path d="M874.2 635V648.8"/>
<path d="M367.9 609.6V646.2"/>
<path d="M474.8 692.5V723"/>
<path d="M365.2 751.5V785"/>
<path d="M956.7 716.7V754"/>
<path d="M95.3 828.2V863"/>
<path d="M164.5 812V848.2"/>
<path d="M330.1 884.4V919.3"/>
<path d="M931.3 835.8V873.3"/>
<path d="M960.3 825V863.3"/>
<path d="M563.6 913.3V951.2"/>
<path d="M496.7 952.8V978.6"/>
<path d="M818.4 982.5V1015.8"/>
<path d="M417.7 1015V1048.5"/>
<path d="M628 1078.9V1115.2"/>
<path d="M123.1 1156.5V1193.8"/>
<path d="M81.6 1180.8V1218"/>
</g>

<!-- LABELS -->
<g class="n">
<text x="576.30" y="275.20" textLength="27.90" lengthAdjust="spacingAndGlyphs"><tspan style="font-family:'Liberation Serif',serif;font-size:25px">1</tspan>9</text>
<text x="677.10" y="361.00" textLength="28.44" lengthAdjust="spacingAndGlyphs"><tspan style="font-family:'Liberation Serif',serif;font-size:25px">1</tspan>8</text>
<text x="362.30" y="407.00" textLength="28.85" lengthAdjust="spacingAndGlyphs"><tspan style="font-family:'Liberation Serif',serif;font-size:25px">1</tspan>6</text>
<text x="426.70" y="441.00" textLength="28.67" lengthAdjust="spacingAndGlyphs"><tspan style="font-family:'Liberation Serif',serif;font-size:25px">1</tspan>7</text>
<text x="211.10" y="460.00" textLength="27.14" lengthAdjust="spacingAndGlyphs">28</text>
<text x="276.30" y="460.00" textLength="26.48" lengthAdjust="spacingAndGlyphs">27</text>
<text x="325.30" y="480.20" textLength="26.54" lengthAdjust="spacingAndGlyphs">29</text>
<text x="503.10" y="480.00" textLength="27.08" lengthAdjust="spacingAndGlyphs">25</text>
<text x="588.50" y="512.60" textLength="14.78" lengthAdjust="spacingAndGlyphs"><tspan style="font-family:'Liberation Serif',serif;font-size:25px">1</tspan></text>
<text x="368.10" y="512.20" textLength="27.88" lengthAdjust="spacingAndGlyphs"><tspan style="font-family:'Liberation Serif',serif;font-size:25px">1</tspan>2</text>
<text x="368.10" y="543.40" textLength="27.88" lengthAdjust="spacingAndGlyphs"><tspan style="font-family:'Liberation Serif',serif;font-size:25px">1</tspan>3</text>
<text x="853.50" y="522.20" textLength="13.38" lengthAdjust="spacingAndGlyphs">5</text>
<text x="971.70" y="546.60" textLength="12.46" lengthAdjust="spacingAndGlyphs">8</text>
<text x="938.10" y="572.00" textLength="13.86" lengthAdjust="spacingAndGlyphs">7</text>
<text x="868.10" y="631.40" textLength="13.06" lengthAdjust="spacingAndGlyphs">6</text>
<text x="354.10" y="606.00" textLength="26.99" lengthAdjust="spacingAndGlyphs"><tspan style="font-family:'Liberation Serif',serif;font-size:25px">1</tspan>4</text>
<text x="468.10" y="689.00" textLength="14.40" lengthAdjust="spacingAndGlyphs">2</text>
<text x="358.50" y="748.00" textLength="14.20" lengthAdjust="spacingAndGlyphs">3</text>
<text x="944.30" y="712.00" textLength="26.69" lengthAdjust="spacingAndGlyphs">26</text>
<text x="82.70" y="825.20" textLength="26.25" lengthAdjust="spacingAndGlyphs">20</text>
<text x="152.90" y="808.40" textLength="27.44" lengthAdjust="spacingAndGlyphs">2<tspan style="font-family:'Liberation Serif',serif;font-size:25px">1</tspan></text>
<text x="317.70" y="880.60" textLength="27.14" lengthAdjust="spacingAndGlyphs">22</text>
<text x="918.30" y="891.20" textLength="27.16" lengthAdjust="spacingAndGlyphs"><tspan style="font-family:'Liberation Serif',serif;font-size:25px">1</tspan>0</text>
<text x="947.10" y="881.80" textLength="28.04" lengthAdjust="spacingAndGlyphs"><tspan style="font-family:'Liberation Serif',serif;font-size:25px">1</tspan><tspan style="font-family:'Liberation Serif',serif;font-size:25px">1</tspan></text>
<text x="556.10" y="969.00" textLength="14.35" lengthAdjust="spacingAndGlyphs">2</text>
<text x="489.90" y="997.20" textLength="13.62" lengthAdjust="spacingAndGlyphs">3</text>
<text x="811.30" y="1037.20" textLength="14.91" lengthAdjust="spacingAndGlyphs">9</text>
<text x="404.10" y="1068.20" textLength="27.16" lengthAdjust="spacingAndGlyphs"><tspan style="font-family:'Liberation Serif',serif;font-size:25px">1</tspan>5</text>
<text x="621.10" y="1135.00" textLength="13.19" lengthAdjust="spacingAndGlyphs">4</text>
<text x="111.10" y="1212.40" textLength="25.82" lengthAdjust="spacingAndGlyphs">24</text>
<text x="70.70" y="1237.20" textLength="25.65" lengthAdjust="spacingAndGlyphs">23</text>
</g>

<!-- WATERMARK -->
<g style="mix-blend-mode:multiply;font-family:'Liberation Sans',sans-serif;font-weight:bold;font-style:italic">
<text x="326.5" y="805" font-size="22.5" textLength="128" lengthAdjust="spacingAndGlyphs" fill="#c8c8c8" stroke="#c8c8c8" stroke-width="1.5">SKLEP</text>
<text x="457.5" y="805" font-size="22.5" textLength="100" lengthAdjust="spacingAndGlyphs" fill="#fbbcbc" stroke="#fbbcbc" stroke-width="1.5">MOTO</text>
<path d="M563 812L572 780.5L641 780.5L632 812Z" fill="#fbbcbc"/>
<text x="578" y="805" font-size="22" textLength="48" lengthAdjust="spacingAndGlyphs" fill="#fff4f4">24</text>
<text x="634.5" y="805" font-size="22.5" textLength="55" lengthAdjust="spacingAndGlyphs" fill="#c8c8c8" stroke="#c8c8c8" stroke-width="1.5">.PL</text>
<text x="323" y="818.5" font-size="11.5" textLength="237" lengthAdjust="spacing" fill="#c4c4c4" stroke="#c4c4c4" stroke-width="0.5">internetowy sklep motocyklowy</text>
</g>

<!-- FWD ARROW -->
<g>
<path d="M77.6 1424.3L91.3 1400.4L95.3 1401.8L96.2 1404L123.5 1388.1L126.6 1389.4L126.6 1409.3L96.2 1426.5L95.7 1433.1Z" style="fill:#111;stroke:#111;stroke-width:0.8;stroke-linejoin:round"/>
<path d="M80 1422.5L92.5 1402.5M97.5 1404.8L123.8 1389.8" style="stroke:#fff;stroke-width:0.9;fill:none"/>
<path d="M95.9 1423.4L97.1 1410.2L102.8 1407.1M96.4 1416.5L101.5 1413.7M102.8 1407.8L105.9 1416.8L108.5 1406.2L111.2 1414.6L113.6 1401M116.9 1400L116.9 1411L121.8 1408.6C123.5 1406 124.3 1403.5 124 1401C123.6 1398.6 122 1397.3 120.4 1397.7L116.9 1400" style="stroke:#fff;stroke-width:1.35;fill:none;stroke-linejoin:round"/>
</g>

</svg>
</body></html>
